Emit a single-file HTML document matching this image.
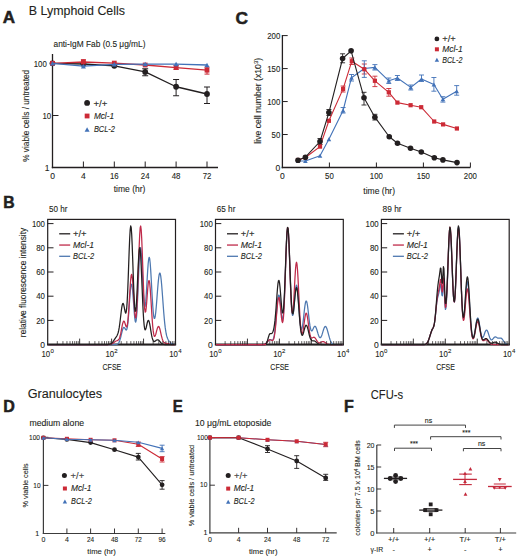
<!DOCTYPE html>
<html><head><meta charset="utf-8"><style>
html,body{margin:0;padding:0;background:#fff;}
svg{display:block;font-family:"Liberation Sans", sans-serif;}
</style></head><body>
<svg width="520" height="558" viewBox="0 0 520 558">
<rect width="520" height="558" fill="#fff"/>
<text x="2.7" y="22.9" font-size="16.6" fill="#231f20" font-weight="bold" textLength="12.3" lengthAdjust="spacingAndGlyphs" stroke="#231f20" stroke-width="0.5">A</text>
<text x="28.8" y="14.8" font-size="12" fill="#231f20" stroke="#231f20" stroke-width="0.1" textLength="96.2" lengthAdjust="spacingAndGlyphs" >B Lymphoid Cells</text>
<text x="3.3" y="208.1" font-size="16.2" fill="#231f20" font-weight="bold" textLength="11.4" lengthAdjust="spacingAndGlyphs" stroke="#231f20" stroke-width="0.5">B</text>
<text x="235.4" y="23.9" font-size="16.4" fill="#231f20" font-weight="bold" textLength="12.5" lengthAdjust="spacingAndGlyphs" stroke="#231f20" stroke-width="0.5">C</text>
<text x="3.3" y="411.9" font-size="16" fill="#231f20" font-weight="bold" textLength="11.6" lengthAdjust="spacingAndGlyphs" stroke="#231f20" stroke-width="0.5">D</text>
<text x="27.7" y="398.3" font-size="12.5" fill="#231f20" stroke="#231f20" stroke-width="0.1" textLength="74.4" lengthAdjust="spacingAndGlyphs" >Granulocytes</text>
<text x="172.7" y="412.2" font-size="16.5" fill="#231f20" font-weight="bold" textLength="10" lengthAdjust="spacingAndGlyphs" stroke="#231f20" stroke-width="0.5">E</text>
<text x="344" y="411.9" font-size="16" fill="#231f20" font-weight="bold" textLength="9.8" lengthAdjust="spacingAndGlyphs" stroke="#231f20" stroke-width="0.5">F</text>
<text x="370.8" y="398.6" font-size="12.5" fill="#231f20" stroke="#231f20" stroke-width="0.1" textLength="32.3" lengthAdjust="spacingAndGlyphs" >CFU-s</text>
<text x="53.5" y="46.8" font-size="9" fill="#231f20" stroke="#231f20" stroke-width="0.1" textLength="92" lengthAdjust="spacingAndGlyphs" >anti-IgM Fab (0.5 &#956;g/mL)</text>
<line x1="52.5" y1="54" x2="52.5" y2="168.2" stroke="#231f20" stroke-width="1.3"/>
<line x1="51.8" y1="167.5" x2="218" y2="167.5" stroke="#231f20" stroke-width="1.3"/>
<line x1="52.5" y1="115.5" x2="58.5" y2="115.5" stroke="#231f20" stroke-width="1"/>
<line x1="52.5" y1="63.5" x2="58.5" y2="63.5" stroke="#231f20" stroke-width="1"/>
<line x1="83.4" y1="167.5" x2="83.4" y2="161.5" stroke="#231f20" stroke-width="1"/>
<line x1="114.3" y1="167.5" x2="114.3" y2="161.5" stroke="#231f20" stroke-width="1"/>
<line x1="145.2" y1="167.5" x2="145.2" y2="161.5" stroke="#231f20" stroke-width="1"/>
<line x1="176.1" y1="167.5" x2="176.1" y2="161.5" stroke="#231f20" stroke-width="1"/>
<line x1="207" y1="167.5" x2="207" y2="161.5" stroke="#231f20" stroke-width="1"/>
<text x="46.8" y="66.6" font-size="8.5" fill="#231f20" stroke="#231f20" stroke-width="0.1" text-anchor="end" textLength="13.08" lengthAdjust="spacingAndGlyphs" >100</text>
<text x="51.2" y="118.6" font-size="8.5" fill="#231f20" stroke="#231f20" stroke-width="0.1" text-anchor="end" textLength="8.72" lengthAdjust="spacingAndGlyphs" >10</text>
<text x="49.4" y="170.7" font-size="8.5" fill="#231f20" stroke="#231f20" stroke-width="0.1" text-anchor="end" >1</text>
<text x="52.5" y="179.3" font-size="8.5" fill="#231f20" stroke="#231f20" stroke-width="0.1" text-anchor="middle" >0</text>
<text x="83.4" y="179.3" font-size="8.5" fill="#231f20" stroke="#231f20" stroke-width="0.1" text-anchor="middle" >4</text>
<text x="114.3" y="179.3" font-size="8.5" fill="#231f20" stroke="#231f20" stroke-width="0.1" text-anchor="middle" textLength="8.72" lengthAdjust="spacingAndGlyphs" >16</text>
<text x="145.2" y="179.3" font-size="8.5" fill="#231f20" stroke="#231f20" stroke-width="0.1" text-anchor="middle" textLength="8.72" lengthAdjust="spacingAndGlyphs" >24</text>
<text x="176.1" y="179.3" font-size="8.5" fill="#231f20" stroke="#231f20" stroke-width="0.1" text-anchor="middle" textLength="8.72" lengthAdjust="spacingAndGlyphs" >48</text>
<text x="207" y="179.3" font-size="8.5" fill="#231f20" stroke="#231f20" stroke-width="0.1" text-anchor="middle" textLength="8.72" lengthAdjust="spacingAndGlyphs" >72</text>
<text x="129.6" y="192.4" font-size="8.8" fill="#231f20" stroke="#231f20" stroke-width="0.1" text-anchor="middle" textLength="31.7" lengthAdjust="spacingAndGlyphs" >time (hr)</text>
<text transform="translate(29.3,115.8) rotate(-90)" font-size="9" fill="#231f20" stroke="#231f20" stroke-width="0.1" text-anchor="middle" textLength="92" lengthAdjust="spacingAndGlyphs" >% viable cells / untreated</text>
<line x1="145.2" y1="68.75" x2="145.2" y2="75.75" stroke="#231f20" stroke-width="1"/>
<line x1="142.2" y1="68.75" x2="148.2" y2="68.75" stroke="#231f20" stroke-width="1"/>
<line x1="142.2" y1="75.75" x2="148.2" y2="75.75" stroke="#231f20" stroke-width="1"/>
<line x1="176.1" y1="79.5" x2="176.1" y2="95.75" stroke="#231f20" stroke-width="1"/>
<line x1="173.1" y1="79.5" x2="179.1" y2="79.5" stroke="#231f20" stroke-width="1"/>
<line x1="173.1" y1="95.75" x2="179.1" y2="95.75" stroke="#231f20" stroke-width="1"/>
<line x1="207" y1="87" x2="207" y2="103.5" stroke="#231f20" stroke-width="1"/>
<line x1="204" y1="87" x2="210" y2="87" stroke="#231f20" stroke-width="1"/>
<line x1="204" y1="103.5" x2="210" y2="103.5" stroke="#231f20" stroke-width="1"/>
<line x1="207" y1="67.2" x2="207" y2="74.1" stroke="#cc2a36" stroke-width="1"/>
<line x1="204.5" y1="67.2" x2="209.5" y2="67.2" stroke="#cc2a36" stroke-width="1"/>
<line x1="204.5" y1="74.1" x2="209.5" y2="74.1" stroke="#cc2a36" stroke-width="1"/>
<line x1="83.4" y1="59.7" x2="83.4" y2="64" stroke="#cc2a36" stroke-width="1"/>
<line x1="80.9" y1="59.7" x2="85.9" y2="59.7" stroke="#cc2a36" stroke-width="1"/>
<line x1="80.9" y1="64" x2="85.9" y2="64" stroke="#cc2a36" stroke-width="1"/>
<line x1="176.1" y1="65.5" x2="176.1" y2="69.5" stroke="#cc2a36" stroke-width="1"/>
<line x1="173.6" y1="65.5" x2="178.6" y2="65.5" stroke="#cc2a36" stroke-width="1"/>
<line x1="173.6" y1="69.5" x2="178.6" y2="69.5" stroke="#cc2a36" stroke-width="1"/>
<polyline points="52.5,63.3 83.4,64 114.3,65.8 145.2,71.9 176.1,86.75 207,94" fill="none" stroke="#231f20" stroke-width="1.3" stroke-linejoin="round"/>
<circle cx="52.5" cy="63.3" r="2.9" fill="#231f20"/>
<circle cx="83.4" cy="64" r="2.9" fill="#231f20"/>
<circle cx="114.3" cy="65.8" r="2.9" fill="#231f20"/>
<circle cx="145.2" cy="71.9" r="2.9" fill="#231f20"/>
<circle cx="176.1" cy="86.75" r="2.9" fill="#231f20"/>
<circle cx="207" cy="94" r="2.9" fill="#231f20"/>
<polyline points="52.5,63.3 83.4,62 114.3,63.1 145.2,65 176.1,67.6 207,70.2" fill="none" stroke="#cc2a36" stroke-width="1.3" stroke-linejoin="round"/>
<rect x="50.1" y="60.9" width="4.8" height="4.8" fill="#cc2a36"/>
<rect x="81" y="59.6" width="4.8" height="4.8" fill="#cc2a36"/>
<rect x="111.9" y="60.7" width="4.8" height="4.8" fill="#cc2a36"/>
<rect x="142.8" y="62.6" width="4.8" height="4.8" fill="#cc2a36"/>
<rect x="173.7" y="65.2" width="4.8" height="4.8" fill="#cc2a36"/>
<rect x="204.6" y="67.8" width="4.8" height="4.8" fill="#cc2a36"/>
<polyline points="52.5,63.3 83.4,66.2 114.3,64.3 145.2,64.1 176.1,64.1 207,65" fill="none" stroke="#4272b8" stroke-width="1.3" stroke-linejoin="round"/>
<polygon points="50,65.55 55,65.55 52.5,61.05" fill="#4272b8"/>
<polygon points="80.9,68.45 85.9,68.45 83.4,63.95" fill="#4272b8"/>
<polygon points="111.8,66.55 116.8,66.55 114.3,62.05" fill="#4272b8"/>
<polygon points="142.7,66.35 147.7,66.35 145.2,61.85" fill="#4272b8"/>
<polygon points="173.6,66.35 178.6,66.35 176.1,61.85" fill="#4272b8"/>
<polygon points="204.5,67.25 209.5,67.25 207,62.75" fill="#4272b8"/>
<circle cx="87.1" cy="102.9" r="2.9" fill="#231f20"/>
<text x="93.4" y="106.6" font-size="9.5" fill="#231f20" stroke="#231f20" stroke-width="0.1" textLength="13.9" lengthAdjust="spacingAndGlyphs" >+/+</text>
<rect x="84.7" y="113.6" width="4.8" height="4.8" fill="#cc2a36"/>
<text x="93.9" y="118.6" font-size="9" fill="#231f20" stroke="#231f20" stroke-width="0.1" font-style="italic" textLength="20.1" lengthAdjust="spacingAndGlyphs" >Mcl-1</text>
<polygon points="84.6,131.85 89.6,131.85 87.1,127.35" fill="#4272b8"/>
<text x="93.9" y="132.3" font-size="9" fill="#231f20" stroke="#231f20" stroke-width="0.1" font-style="italic" textLength="21.1" lengthAdjust="spacingAndGlyphs" >BCL-2</text>
<line x1="282.4" y1="35" x2="282.4" y2="168.2" stroke="#231f20" stroke-width="1.3"/>
<line x1="281.7" y1="167.5" x2="470.4" y2="167.5" stroke="#231f20" stroke-width="1.3"/>
<line x1="282.4" y1="134.53" x2="287.7" y2="134.53" stroke="#231f20" stroke-width="1"/>
<line x1="282.4" y1="101.55" x2="287.7" y2="101.55" stroke="#231f20" stroke-width="1"/>
<line x1="282.4" y1="68.58" x2="287.7" y2="68.58" stroke="#231f20" stroke-width="1"/>
<line x1="282.4" y1="35.6" x2="287.7" y2="35.6" stroke="#231f20" stroke-width="1"/>
<line x1="329.4" y1="167.5" x2="329.4" y2="162.5" stroke="#231f20" stroke-width="1"/>
<line x1="376.4" y1="167.5" x2="376.4" y2="162.5" stroke="#231f20" stroke-width="1"/>
<line x1="423.4" y1="167.5" x2="423.4" y2="162.5" stroke="#231f20" stroke-width="1"/>
<line x1="470.4" y1="167.5" x2="470.4" y2="162.5" stroke="#231f20" stroke-width="1"/>
<text x="280.3" y="170.5" font-size="8.5" fill="#231f20" stroke="#231f20" stroke-width="0.1" text-anchor="end" >0</text>
<text x="280.3" y="137.53" font-size="8.5" fill="#231f20" stroke="#231f20" stroke-width="0.1" text-anchor="end" textLength="8.72" lengthAdjust="spacingAndGlyphs" >50</text>
<text x="280.3" y="104.55" font-size="8.5" fill="#231f20" stroke="#231f20" stroke-width="0.1" text-anchor="end" textLength="13.08" lengthAdjust="spacingAndGlyphs" >100</text>
<text x="280.3" y="71.58" font-size="8.5" fill="#231f20" stroke="#231f20" stroke-width="0.1" text-anchor="end" textLength="13.08" lengthAdjust="spacingAndGlyphs" >150</text>
<text x="280.3" y="38.6" font-size="8.5" fill="#231f20" stroke="#231f20" stroke-width="0.1" text-anchor="end" textLength="13.08" lengthAdjust="spacingAndGlyphs" >200</text>
<text x="282.4" y="178.5" font-size="8.5" fill="#231f20" stroke="#231f20" stroke-width="0.1" text-anchor="middle" >0</text>
<text x="329.4" y="178.5" font-size="8.5" fill="#231f20" stroke="#231f20" stroke-width="0.1" text-anchor="middle" textLength="8.72" lengthAdjust="spacingAndGlyphs" >50</text>
<text x="376.4" y="178.5" font-size="8.5" fill="#231f20" stroke="#231f20" stroke-width="0.1" text-anchor="middle" textLength="13.08" lengthAdjust="spacingAndGlyphs" >100</text>
<text x="423.4" y="178.5" font-size="8.5" fill="#231f20" stroke="#231f20" stroke-width="0.1" text-anchor="middle" textLength="13.08" lengthAdjust="spacingAndGlyphs" >150</text>
<text x="470.4" y="178.5" font-size="8.5" fill="#231f20" stroke="#231f20" stroke-width="0.1" text-anchor="middle" textLength="13.08" lengthAdjust="spacingAndGlyphs" >200</text>
<text x="379.2" y="193.6" font-size="8.8" fill="#231f20" stroke="#231f20" stroke-width="0.1" text-anchor="middle" textLength="31.7" lengthAdjust="spacingAndGlyphs" >time (hr)</text>
<text transform="translate(260.8,100.8) rotate(-90)" font-size="8.7" fill="#231f20" stroke="#231f20" stroke-width="0.1" text-anchor="middle" >live cell number (x10<tspan dy="-3" font-size="6">3</tspan><tspan dy="3">)</tspan></text>
<line x1="342.6" y1="53.8" x2="342.6" y2="62.8" stroke="#231f20" stroke-width="0.9"/>
<line x1="340.1" y1="53.8" x2="345.1" y2="53.8" stroke="#231f20" stroke-width="0.9"/>
<line x1="340.1" y1="62.8" x2="345.1" y2="62.8" stroke="#231f20" stroke-width="0.9"/>
<line x1="364" y1="92.3" x2="364" y2="105" stroke="#231f20" stroke-width="0.9"/>
<line x1="361.5" y1="92.3" x2="366.5" y2="92.3" stroke="#231f20" stroke-width="0.9"/>
<line x1="361.5" y1="105" x2="366.5" y2="105" stroke="#231f20" stroke-width="0.9"/>
<line x1="374.9" y1="114.3" x2="374.9" y2="120" stroke="#231f20" stroke-width="0.9"/>
<line x1="372.4" y1="114.3" x2="377.4" y2="114.3" stroke="#231f20" stroke-width="0.9"/>
<line x1="372.4" y1="120" x2="377.4" y2="120" stroke="#231f20" stroke-width="0.9"/>
<line x1="328.9" y1="109.5" x2="328.9" y2="115.5" stroke="#231f20" stroke-width="0.9"/>
<line x1="326.4" y1="109.5" x2="331.4" y2="109.5" stroke="#231f20" stroke-width="0.9"/>
<line x1="326.4" y1="115.5" x2="331.4" y2="115.5" stroke="#231f20" stroke-width="0.9"/>
<line x1="320" y1="138.5" x2="320" y2="144.5" stroke="#231f20" stroke-width="0.9"/>
<line x1="317.5" y1="138.5" x2="322.5" y2="138.5" stroke="#231f20" stroke-width="0.9"/>
<line x1="317.5" y1="144.5" x2="322.5" y2="144.5" stroke="#231f20" stroke-width="0.9"/>
<line x1="374.9" y1="76.2" x2="374.9" y2="86.6" stroke="#cc2a36" stroke-width="0.9"/>
<line x1="372.4" y1="76.2" x2="377.4" y2="76.2" stroke="#cc2a36" stroke-width="0.9"/>
<line x1="372.4" y1="86.6" x2="377.4" y2="86.6" stroke="#cc2a36" stroke-width="0.9"/>
<line x1="388.8" y1="88.5" x2="388.8" y2="96.2" stroke="#cc2a36" stroke-width="0.9"/>
<line x1="386.3" y1="88.5" x2="391.3" y2="88.5" stroke="#cc2a36" stroke-width="0.9"/>
<line x1="386.3" y1="96.2" x2="391.3" y2="96.2" stroke="#cc2a36" stroke-width="0.9"/>
<line x1="364.3" y1="64" x2="364.3" y2="74" stroke="#cc2a36" stroke-width="0.9"/>
<line x1="361.8" y1="64" x2="366.8" y2="64" stroke="#cc2a36" stroke-width="0.9"/>
<line x1="361.8" y1="74" x2="366.8" y2="74" stroke="#cc2a36" stroke-width="0.9"/>
<line x1="351.8" y1="58" x2="351.8" y2="64.5" stroke="#cc2a36" stroke-width="0.9"/>
<line x1="349.3" y1="58" x2="354.3" y2="58" stroke="#cc2a36" stroke-width="0.9"/>
<line x1="349.3" y1="64.5" x2="354.3" y2="64.5" stroke="#cc2a36" stroke-width="0.9"/>
<line x1="343.1" y1="86" x2="343.1" y2="92" stroke="#cc2a36" stroke-width="0.9"/>
<line x1="340.6" y1="86" x2="345.6" y2="86" stroke="#cc2a36" stroke-width="0.9"/>
<line x1="340.6" y1="92" x2="345.6" y2="92" stroke="#cc2a36" stroke-width="0.9"/>
<line x1="364.3" y1="60.8" x2="364.3" y2="77.4" stroke="#4272b8" stroke-width="0.9"/>
<line x1="361.8" y1="60.8" x2="366.8" y2="60.8" stroke="#4272b8" stroke-width="0.9"/>
<line x1="361.8" y1="77.4" x2="366.8" y2="77.4" stroke="#4272b8" stroke-width="0.9"/>
<line x1="374.9" y1="64.6" x2="374.9" y2="70" stroke="#4272b8" stroke-width="0.9"/>
<line x1="372.4" y1="64.6" x2="377.4" y2="64.6" stroke="#4272b8" stroke-width="0.9"/>
<line x1="372.4" y1="70" x2="377.4" y2="70" stroke="#4272b8" stroke-width="0.9"/>
<line x1="421.5" y1="75" x2="421.5" y2="81.5" stroke="#4272b8" stroke-width="0.9"/>
<line x1="419" y1="75" x2="424" y2="75" stroke="#4272b8" stroke-width="0.9"/>
<line x1="419" y1="81.5" x2="424" y2="81.5" stroke="#4272b8" stroke-width="0.9"/>
<line x1="433.9" y1="77.5" x2="433.9" y2="91.2" stroke="#4272b8" stroke-width="0.9"/>
<line x1="431.4" y1="77.5" x2="436.4" y2="77.5" stroke="#4272b8" stroke-width="0.9"/>
<line x1="431.4" y1="91.2" x2="436.4" y2="91.2" stroke="#4272b8" stroke-width="0.9"/>
<line x1="442.9" y1="96.7" x2="442.9" y2="102.1" stroke="#4272b8" stroke-width="0.9"/>
<line x1="440.4" y1="96.7" x2="445.4" y2="96.7" stroke="#4272b8" stroke-width="0.9"/>
<line x1="440.4" y1="102.1" x2="445.4" y2="102.1" stroke="#4272b8" stroke-width="0.9"/>
<line x1="456.7" y1="85.6" x2="456.7" y2="95.2" stroke="#4272b8" stroke-width="0.9"/>
<line x1="454.2" y1="85.6" x2="459.2" y2="85.6" stroke="#4272b8" stroke-width="0.9"/>
<line x1="454.2" y1="95.2" x2="459.2" y2="95.2" stroke="#4272b8" stroke-width="0.9"/>
<line x1="351.5" y1="74.5" x2="351.5" y2="81" stroke="#4272b8" stroke-width="0.9"/>
<line x1="349" y1="74.5" x2="354" y2="74.5" stroke="#4272b8" stroke-width="0.9"/>
<line x1="349" y1="81" x2="354" y2="81" stroke="#4272b8" stroke-width="0.9"/>
<line x1="397.4" y1="75.5" x2="397.4" y2="80.5" stroke="#4272b8" stroke-width="0.9"/>
<line x1="394.9" y1="75.5" x2="399.9" y2="75.5" stroke="#4272b8" stroke-width="0.9"/>
<line x1="394.9" y1="80.5" x2="399.9" y2="80.5" stroke="#4272b8" stroke-width="0.9"/>
<line x1="388.8" y1="78" x2="388.8" y2="83.5" stroke="#4272b8" stroke-width="0.9"/>
<line x1="386.3" y1="78" x2="391.3" y2="78" stroke="#4272b8" stroke-width="0.9"/>
<line x1="386.3" y1="83.5" x2="391.3" y2="83.5" stroke="#4272b8" stroke-width="0.9"/>
<line x1="410.8" y1="85" x2="410.8" y2="90" stroke="#4272b8" stroke-width="0.9"/>
<line x1="408.3" y1="85" x2="413.3" y2="85" stroke="#4272b8" stroke-width="0.9"/>
<line x1="408.3" y1="90" x2="413.3" y2="90" stroke="#4272b8" stroke-width="0.9"/>
<line x1="343.1" y1="107.5" x2="343.1" y2="113" stroke="#4272b8" stroke-width="0.9"/>
<line x1="340.6" y1="107.5" x2="345.6" y2="107.5" stroke="#4272b8" stroke-width="0.9"/>
<line x1="340.6" y1="113" x2="345.6" y2="113" stroke="#4272b8" stroke-width="0.9"/>
<polyline points="298,161 305.4,161 320,155.8 328.9,139.2 343.1,110.5 351.5,77.7 364.3,68.5 374.9,67.4 388.8,80.8 397.4,78 410.8,87.4 421.5,79 433.9,84.5 442.9,99.2 456.7,91.2" fill="none" stroke="#4272b8" stroke-width="1.1" stroke-linejoin="round"/>
<polygon points="295.7,163.07 300.3,163.07 298,158.93" fill="#4272b8"/>
<polygon points="303.1,163.07 307.7,163.07 305.4,158.93" fill="#4272b8"/>
<polygon points="317.7,157.87 322.3,157.87 320,153.73" fill="#4272b8"/>
<polygon points="326.6,141.27 331.2,141.27 328.9,137.13" fill="#4272b8"/>
<polygon points="340.8,112.57 345.4,112.57 343.1,108.43" fill="#4272b8"/>
<polygon points="349.2,79.77 353.8,79.77 351.5,75.63" fill="#4272b8"/>
<polygon points="362,70.57 366.6,70.57 364.3,66.43" fill="#4272b8"/>
<polygon points="372.6,69.47 377.2,69.47 374.9,65.33" fill="#4272b8"/>
<polygon points="386.5,82.87 391.1,82.87 388.8,78.73" fill="#4272b8"/>
<polygon points="395.1,80.07 399.7,80.07 397.4,75.93" fill="#4272b8"/>
<polygon points="408.5,89.47 413.1,89.47 410.8,85.33" fill="#4272b8"/>
<polygon points="419.2,81.07 423.8,81.07 421.5,76.93" fill="#4272b8"/>
<polygon points="431.6,86.57 436.2,86.57 433.9,82.43" fill="#4272b8"/>
<polygon points="440.6,101.27 445.2,101.27 442.9,97.13" fill="#4272b8"/>
<polygon points="454.4,93.27 459,93.27 456.7,89.13" fill="#4272b8"/>
<polyline points="298,160 305.4,157.5 320,146.6 328.9,120.8 343.1,88.9 351.8,61.2 364.3,69.2 374.9,80.8 388.8,92.3 397.4,102.6 410.6,105.2 421.2,107.2 434.2,121.5 443.1,124.4 456.9,128.5" fill="none" stroke="#cc2a36" stroke-width="1.1" stroke-linejoin="round"/>
<rect x="295.9" y="157.9" width="4.2" height="4.2" fill="#cc2a36"/>
<rect x="303.3" y="155.4" width="4.2" height="4.2" fill="#cc2a36"/>
<rect x="317.9" y="144.5" width="4.2" height="4.2" fill="#cc2a36"/>
<rect x="326.8" y="118.7" width="4.2" height="4.2" fill="#cc2a36"/>
<rect x="341" y="86.8" width="4.2" height="4.2" fill="#cc2a36"/>
<rect x="349.7" y="59.1" width="4.2" height="4.2" fill="#cc2a36"/>
<rect x="362.2" y="67.1" width="4.2" height="4.2" fill="#cc2a36"/>
<rect x="372.8" y="78.7" width="4.2" height="4.2" fill="#cc2a36"/>
<rect x="386.7" y="90.2" width="4.2" height="4.2" fill="#cc2a36"/>
<rect x="395.3" y="100.5" width="4.2" height="4.2" fill="#cc2a36"/>
<rect x="408.5" y="103.1" width="4.2" height="4.2" fill="#cc2a36"/>
<rect x="419.1" y="105.1" width="4.2" height="4.2" fill="#cc2a36"/>
<rect x="432.1" y="119.4" width="4.2" height="4.2" fill="#cc2a36"/>
<rect x="441" y="122.3" width="4.2" height="4.2" fill="#cc2a36"/>
<rect x="454.8" y="126.4" width="4.2" height="4.2" fill="#cc2a36"/>
<polyline points="298,160.3 305.4,157.2 320,141.5 328.9,112.6 342.6,58.5 351.1,50.8 364,97.7 374.9,117.2 389.25,136.75 397.5,143.25 410.5,148.25 421.3,152 434.3,157.7 442.9,159.9 457,162.6" fill="none" stroke="#231f20" stroke-width="1.1" stroke-linejoin="round"/>
<circle cx="298" cy="160.3" r="2.8" fill="#231f20"/>
<circle cx="305.4" cy="157.2" r="2.8" fill="#231f20"/>
<circle cx="320" cy="141.5" r="2.8" fill="#231f20"/>
<circle cx="328.9" cy="112.6" r="2.8" fill="#231f20"/>
<circle cx="342.6" cy="58.5" r="2.8" fill="#231f20"/>
<circle cx="351.1" cy="50.8" r="2.8" fill="#231f20"/>
<circle cx="364" cy="97.7" r="2.8" fill="#231f20"/>
<circle cx="374.9" cy="117.2" r="2.8" fill="#231f20"/>
<circle cx="389.25" cy="136.75" r="2.8" fill="#231f20"/>
<circle cx="397.5" cy="143.25" r="2.8" fill="#231f20"/>
<circle cx="410.5" cy="148.25" r="2.8" fill="#231f20"/>
<circle cx="421.3" cy="152" r="2.8" fill="#231f20"/>
<circle cx="434.3" cy="157.7" r="2.8" fill="#231f20"/>
<circle cx="442.9" cy="159.9" r="2.8" fill="#231f20"/>
<circle cx="457" cy="162.6" r="2.8" fill="#231f20"/>
<circle cx="436.9" cy="38.9" r="2.4" fill="#231f20"/>
<text x="442.2" y="42" font-size="9" fill="#231f20" stroke="#231f20" stroke-width="0.1" textLength="13.5" lengthAdjust="spacingAndGlyphs" >+/+</text>
<rect x="434.9" y="47.3" width="4" height="4" fill="#cc2a36"/>
<text x="442.2" y="52.4" font-size="8.5" fill="#231f20" stroke="#231f20" stroke-width="0.1" font-style="italic" textLength="20.6" lengthAdjust="spacingAndGlyphs" >Mcl-1</text>
<polygon points="434.7,61.68 439.1,61.68 436.9,57.72" fill="#4272b8"/>
<text x="442.2" y="62.8" font-size="8.5" fill="#231f20" stroke="#231f20" stroke-width="0.1" font-style="italic" textLength="20.2" lengthAdjust="spacingAndGlyphs" >BCL-2</text>
<text x="48.9" y="212" font-size="9" fill="#231f20" stroke="#231f20" stroke-width="0.1" textLength="18.5" lengthAdjust="spacingAndGlyphs" >50 hr</text>
<rect x="47.7" y="219.4" width="127.8" height="125.2" fill="none" stroke="#231f20" stroke-width="1.2"/>
<line x1="47.1" y1="344.6" x2="176.1" y2="344.6" stroke="#231f20" stroke-width="2"/>
<path d="M48.2,344.60 L48.7,344.60 L49.2,344.60 L49.7,344.60 L50.2,344.60 L50.7,344.60 L51.2,344.60 L51.7,344.60 L52.2,344.60 L52.7,344.60 L53.2,344.60 L53.7,344.60 L54.2,344.60 L54.7,344.60 L55.2,344.60 L55.7,344.60 L56.2,344.60 L56.7,344.60 L57.2,344.60 L57.7,344.60 L58.2,344.60 L58.7,344.60 L59.2,344.60 L59.7,344.60 L60.2,344.60 L60.7,344.60 L61.2,344.60 L61.7,344.60 L62.2,344.60 L62.7,344.60 L63.2,344.60 L63.7,344.60 L64.2,344.60 L64.7,344.60 L65.2,344.60 L65.7,344.60 L66.2,344.60 L66.7,344.60 L67.2,344.60 L67.7,344.60 L68.2,344.60 L68.7,344.60 L69.2,344.60 L69.7,344.60 L70.2,344.60 L70.7,344.60 L71.2,344.60 L71.7,344.60 L72.2,344.60 L72.7,344.60 L73.2,344.60 L73.7,344.60 L74.2,344.60 L74.7,344.60 L75.2,344.60 L75.7,344.60 L76.2,344.60 L76.7,344.60 L77.2,344.60 L77.7,344.60 L78.2,344.60 L78.7,344.60 L79.2,344.60 L79.7,344.60 L80.2,344.60 L80.7,344.60 L81.2,344.60 L81.7,344.60 L82.2,344.60 L82.7,344.60 L83.2,344.60 L83.7,344.60 L84.2,344.60 L84.7,344.60 L85.2,344.60 L85.7,344.60 L86.2,344.60 L86.7,344.60 L87.2,344.60 L87.7,344.60 L88.2,344.60 L88.7,344.60 L89.2,344.60 L89.7,344.60 L90.2,344.60 L90.7,344.60 L91.2,344.60 L91.7,344.60 L92.2,344.60 L92.7,344.60 L93.2,344.60 L93.7,344.60 L94.2,344.60 L94.7,344.60 L95.2,344.60 L95.7,344.60 L96.2,344.60 L96.7,344.60 L97.2,344.60 L97.7,344.60 L98.2,344.60 L98.7,344.60 L99.2,344.60 L99.7,344.60 L100.2,344.60 L100.7,344.60 L101.2,344.60 L101.7,344.60 L102.2,344.60 L102.7,344.60 L103.2,344.60 L103.7,344.60 L104.2,344.60 L104.7,344.60 L105.2,344.60 L105.7,344.60 L106.2,344.60 L106.7,344.60 L107.2,344.60 L107.7,344.60 L108.2,344.60 L108.7,344.60 L109.2,344.60 L109.7,344.60 L110.2,344.60 L110.7,344.60 L111.2,344.60 L111.7,344.60 L112.2,344.60 L112.7,344.60 L113.2,344.60 L113.7,344.60 L114.2,344.59 L114.7,344.59 L115.2,344.57 L115.7,344.54 L116.2,344.49 L116.7,344.39 L117.2,344.21 L117.7,343.93 L118.2,343.49 L118.7,342.83 L119.2,341.90 L119.7,340.66 L120.2,339.10 L120.7,337.24 L121.2,335.18 L121.7,333.04 L122.2,331.02 L122.7,329.31 L123.2,328.09 L123.7,327.48 L124.2,327.50 L124.7,328.05 L125.2,328.89 L125.7,329.70 L126.2,330.07 L126.7,329.58 L127.2,327.85 L127.7,324.62 L128.2,319.83 L128.7,313.66 L129.2,306.56 L129.7,299.23 L130.2,292.54 L130.7,287.37 L131.2,284.44 L131.7,284.19 L132.2,286.66 L132.7,291.47 L133.2,297.92 L133.7,305.08 L134.2,311.95 L134.7,317.59 L135.2,321.21 L135.7,322.21 L136.2,320.24 L136.7,315.18 L137.2,307.21 L137.7,296.86 L138.2,285.01 L138.7,272.86 L139.2,261.81 L139.7,253.27 L140.2,248.35 L140.7,247.73 L141.2,251.41 L141.7,258.76 L142.2,268.61 L142.7,279.51 L143.2,289.92 L143.7,298.53 L144.2,304.35 L144.7,306.85 L145.2,305.92 L145.7,301.88 L146.2,295.33 L146.7,287.16 L147.2,278.39 L147.7,270.09 L148.2,263.29 L148.7,258.83 L149.2,257.27 L149.7,258.80 L150.2,263.25 L150.7,270.11 L151.2,278.62 L151.7,287.86 L152.2,296.94 L152.7,305.05 L153.2,311.57 L153.7,316.08 L154.2,318.39 L154.7,318.47 L155.2,316.49 L155.7,312.71 L156.2,307.52 L156.7,301.37 L157.2,294.78 L157.7,288.28 L158.2,282.41 L158.7,277.66 L159.2,274.45 L159.7,273.04 L160.2,273.55 L160.7,275.95 L161.2,280.01 L161.7,285.42 L162.2,291.75 L162.7,298.56 L163.2,305.41 L163.7,311.95 L164.2,317.90 L164.7,323.09 L165.2,327.44 L165.7,330.97 L166.2,333.76 L166.7,335.92 L167.2,337.57 L167.7,338.84 L168.2,339.83 L168.7,340.63 L169.2,341.30 L169.7,341.87 L170.2,342.37 L170.7,342.81 L171.2,343.19 L171.7,343.51 L172.2,343.78 L172.7,344.00 L173.2,344.17 L173.7,344.30 L174.2,344.40 L174.7,344.46" fill="none" stroke="#4d78b0" stroke-width="1.25" stroke-linejoin="round"/>
<path d="M48.2,344.60 L48.7,344.60 L49.2,344.60 L49.7,344.60 L50.2,344.60 L50.7,344.60 L51.2,344.60 L51.7,344.60 L52.2,344.60 L52.7,344.60 L53.2,344.60 L53.7,344.60 L54.2,344.60 L54.7,344.60 L55.2,344.60 L55.7,344.60 L56.2,344.60 L56.7,344.60 L57.2,344.60 L57.7,344.60 L58.2,344.60 L58.7,344.60 L59.2,344.60 L59.7,344.60 L60.2,344.60 L60.7,344.60 L61.2,344.60 L61.7,344.60 L62.2,344.60 L62.7,344.60 L63.2,344.60 L63.7,344.60 L64.2,344.60 L64.7,344.60 L65.2,344.60 L65.7,344.60 L66.2,344.60 L66.7,344.60 L67.2,344.60 L67.7,344.60 L68.2,344.60 L68.7,344.60 L69.2,344.60 L69.7,344.60 L70.2,344.60 L70.7,344.60 L71.2,344.60 L71.7,344.60 L72.2,344.60 L72.7,344.60 L73.2,344.60 L73.7,344.60 L74.2,344.60 L74.7,344.60 L75.2,344.60 L75.7,344.60 L76.2,344.60 L76.7,344.60 L77.2,344.60 L77.7,344.60 L78.2,344.60 L78.7,344.60 L79.2,344.60 L79.7,344.60 L80.2,344.60 L80.7,344.60 L81.2,344.60 L81.7,344.60 L82.2,344.60 L82.7,344.60 L83.2,344.60 L83.7,344.60 L84.2,344.60 L84.7,344.60 L85.2,344.60 L85.7,344.60 L86.2,344.60 L86.7,344.60 L87.2,344.60 L87.7,344.60 L88.2,344.60 L88.7,344.60 L89.2,344.60 L89.7,344.60 L90.2,344.60 L90.7,344.60 L91.2,344.60 L91.7,344.60 L92.2,344.60 L92.7,344.60 L93.2,344.60 L93.7,344.60 L94.2,344.60 L94.7,344.60 L95.2,344.60 L95.7,344.60 L96.2,344.60 L96.7,344.60 L97.2,344.60 L97.7,344.60 L98.2,344.60 L98.7,344.60 L99.2,344.60 L99.7,344.60 L100.2,344.60 L100.7,344.60 L101.2,344.60 L101.7,344.60 L102.2,344.60 L102.7,344.60 L103.2,344.60 L103.7,344.60 L104.2,344.60 L104.7,344.60 L105.2,344.60 L105.7,344.60 L106.2,344.59 L106.7,344.59 L107.2,344.58 L107.7,344.57 L108.2,344.55 L108.7,344.52 L109.2,344.48 L109.7,344.41 L110.2,344.32 L110.7,344.20 L111.2,344.04 L111.7,343.84 L112.2,343.59 L112.7,343.30 L113.2,342.97 L113.7,342.62 L114.2,342.25 L114.7,341.89 L115.2,341.55 L115.7,341.25 L116.2,341.00 L116.7,340.79 L117.2,340.60 L117.7,340.38 L118.2,340.06 L118.7,339.54 L119.2,338.71 L119.7,337.49 L120.2,335.79 L120.7,333.63 L121.2,331.10 L121.7,328.38 L122.2,325.73 L122.7,323.46 L123.2,321.86 L123.7,321.14 L124.2,321.35 L124.7,322.39 L125.2,323.95 L125.7,325.59 L126.2,326.77 L126.7,326.94 L127.2,325.62 L127.7,322.47 L128.2,317.37 L128.7,310.53 L129.2,302.42 L129.7,293.85 L130.2,285.80 L130.7,279.33 L131.2,275.32 L131.7,274.36 L132.2,276.59 L132.7,281.67 L133.2,288.83 L133.7,297.02 L134.2,305.08 L134.7,311.89 L135.2,316.45 L135.7,318.01 L136.2,316.08 L136.7,310.43 L137.2,301.21 L137.7,288.96 L138.2,274.66 L138.7,259.70 L139.2,245.77 L139.7,234.60 L140.2,227.69 L140.7,226.01 L141.2,229.77 L141.7,238.41 L142.2,250.69 L142.7,264.93 L143.2,279.34 L143.7,292.28 L144.2,302.50 L144.7,309.22 L145.2,312.17 L145.7,311.54 L146.2,307.91 L146.7,302.18 L147.2,295.45 L147.7,288.93 L148.2,283.73 L148.7,280.77 L149.2,280.59 L149.7,283.30 L150.2,288.57 L150.7,295.70 L151.2,303.83 L151.7,312.07 L152.2,319.66 L152.7,326.04 L153.2,330.91 L153.7,334.19 L154.2,335.98 L154.7,336.44 L155.2,335.85 L155.7,334.49 L156.2,332.65 L156.7,330.66 L157.2,328.81 L157.7,327.38 L158.2,326.56 L158.7,326.49 L159.2,327.17 L159.7,328.53 L160.2,330.39 L160.7,332.55 L161.2,334.77 L161.7,336.86 L162.2,338.69 L162.7,340.17 L163.2,341.29 L163.7,342.07 L164.2,342.58 L164.7,342.90 L165.2,343.08 L165.7,343.20 L166.2,343.29 L166.7,343.38 L167.2,343.50 L167.7,343.63 L168.2,343.77 L168.7,343.92 L169.2,344.07 L169.7,344.19 L170.2,344.30 L170.7,344.39 L171.2,344.46 L171.7,344.51 L172.2,344.54 L172.7,344.57 L173.2,344.58 L173.7,344.59 L174.2,344.59 L174.7,344.60" fill="none" stroke="#bf2a4a" stroke-width="1.25" stroke-linejoin="round"/>
<path d="M48.2,344.60 L48.7,344.60 L49.2,344.60 L49.7,344.60 L50.2,344.60 L50.7,344.60 L51.2,344.60 L51.7,344.60 L52.2,344.60 L52.7,344.60 L53.2,344.60 L53.7,344.60 L54.2,344.60 L54.7,344.60 L55.2,344.60 L55.7,344.60 L56.2,344.60 L56.7,344.60 L57.2,344.60 L57.7,344.60 L58.2,344.60 L58.7,344.60 L59.2,344.60 L59.7,344.60 L60.2,344.60 L60.7,344.60 L61.2,344.60 L61.7,344.60 L62.2,344.60 L62.7,344.60 L63.2,344.60 L63.7,344.60 L64.2,344.60 L64.7,344.60 L65.2,344.60 L65.7,344.60 L66.2,344.60 L66.7,344.60 L67.2,344.60 L67.7,344.60 L68.2,344.60 L68.7,344.60 L69.2,344.60 L69.7,344.60 L70.2,344.60 L70.7,344.60 L71.2,344.60 L71.7,344.60 L72.2,344.60 L72.7,344.60 L73.2,344.60 L73.7,344.60 L74.2,344.60 L74.7,344.60 L75.2,344.60 L75.7,344.60 L76.2,344.60 L76.7,344.60 L77.2,344.60 L77.7,344.60 L78.2,344.60 L78.7,344.60 L79.2,344.60 L79.7,344.60 L80.2,344.60 L80.7,344.60 L81.2,344.60 L81.7,344.60 L82.2,344.60 L82.7,344.60 L83.2,344.60 L83.7,344.60 L84.2,344.60 L84.7,344.60 L85.2,344.60 L85.7,344.60 L86.2,344.60 L86.7,344.60 L87.2,344.60 L87.7,344.60 L88.2,344.60 L88.7,344.60 L89.2,344.60 L89.7,344.60 L90.2,344.60 L90.7,344.60 L91.2,344.60 L91.7,344.60 L92.2,344.60 L92.7,344.60 L93.2,344.60 L93.7,344.60 L94.2,344.60 L94.7,344.60 L95.2,344.60 L95.7,344.60 L96.2,344.60 L96.7,344.60 L97.2,344.60 L97.7,344.60 L98.2,344.60 L98.7,344.60 L99.2,344.60 L99.7,344.60 L100.2,344.60 L100.7,344.60 L101.2,344.60 L101.7,344.60 L102.2,344.60 L102.7,344.60 L103.2,344.60 L103.7,344.60 L104.2,344.60 L104.7,344.60 L105.2,344.60 L105.7,344.59 L106.2,344.59 L106.7,344.58 L107.2,344.57 L107.7,344.54 L108.2,344.50 L108.7,344.44 L109.2,344.35 L109.7,344.22 L110.2,344.04 L110.7,343.80 L111.2,343.48 L111.7,343.07 L112.2,342.58 L112.7,342.00 L113.2,341.34 L113.7,340.61 L114.2,339.86 L114.7,339.09 L115.2,338.33 L115.7,337.60 L116.2,336.87 L116.7,336.10 L117.2,335.20 L117.7,334.05 L118.2,332.49 L118.7,330.40 L119.2,327.65 L119.7,324.24 L120.2,320.27 L120.7,315.97 L121.2,311.71 L121.7,307.94 L122.2,305.10 L122.7,303.55 L123.2,303.45 L123.7,304.72 L124.2,307.02 L124.7,309.74 L125.2,312.07 L125.7,313.14 L126.2,312.07 L126.7,308.18 L127.2,301.11 L127.7,290.91 L128.2,278.18 L128.7,264.06 L129.2,250.08 L129.7,238.02 L130.2,229.52 L130.7,225.85 L131.2,227.58 L131.7,234.48 L132.2,245.57 L132.7,259.35 L133.2,274.01 L133.7,287.82 L134.2,299.29 L134.7,307.32 L135.2,311.30 L135.7,311.01 L136.2,306.65 L136.7,298.84 L137.2,288.51 L137.7,276.96 L138.2,265.67 L138.7,256.20 L139.2,249.90 L139.7,247.71 L140.2,249.99 L140.7,256.43 L141.2,266.16 L141.7,277.93 L142.2,290.34 L142.7,302.13 L143.2,312.31 L143.7,320.27 L144.2,325.75 L144.7,328.85 L145.2,329.86 L145.7,329.23 L146.2,327.50 L146.7,325.24 L147.2,323.00 L147.7,321.26 L148.2,320.38 L148.7,320.55 L149.2,321.78 L149.7,323.93 L150.2,326.71 L150.7,329.80 L151.2,332.86 L151.7,335.63 L152.2,337.91 L152.7,339.62 L153.2,340.76 L153.7,341.37 L154.2,341.57 L154.7,341.45 L155.2,341.12 L155.7,340.71 L156.2,340.30 L156.7,339.97 L157.2,339.78 L157.7,339.77 L158.2,339.94 L158.7,340.29 L159.2,340.76 L159.7,341.31 L160.2,341.90 L160.7,342.47 L161.2,342.98 L161.7,343.42 L162.2,343.77 L162.7,344.04 L163.2,344.24 L163.7,344.38 L164.2,344.47 L164.7,344.52 L165.2,344.56 L165.7,344.58 L166.2,344.59 L166.7,344.59 L167.2,344.60 L167.7,344.60 L168.2,344.60 L168.7,344.60 L169.2,344.60 L169.7,344.60 L170.2,344.60 L170.7,344.60 L171.2,344.60 L171.7,344.60 L172.2,344.60 L172.7,344.60 L173.2,344.60 L173.7,344.60 L174.2,344.60 L174.7,344.60" fill="none" stroke="#231f20" stroke-width="1.25" stroke-linejoin="round"/>
<line x1="47.7" y1="320.4" x2="53.5" y2="320.4" stroke="#231f20" stroke-width="1"/>
<line x1="47.7" y1="296.2" x2="53.5" y2="296.2" stroke="#231f20" stroke-width="1"/>
<line x1="47.7" y1="272" x2="53.5" y2="272" stroke="#231f20" stroke-width="1"/>
<line x1="47.7" y1="247.8" x2="53.5" y2="247.8" stroke="#231f20" stroke-width="1"/>
<line x1="47.7" y1="223.6" x2="53.5" y2="223.6" stroke="#231f20" stroke-width="1"/>
<text x="45" y="347.7" font-size="8.5" fill="#231f20" stroke="#231f20" stroke-width="0.1" text-anchor="end" >0</text>
<text x="45" y="323.5" font-size="8.5" fill="#231f20" stroke="#231f20" stroke-width="0.1" text-anchor="end" textLength="8.72" lengthAdjust="spacingAndGlyphs" >20</text>
<text x="45" y="299.3" font-size="8.5" fill="#231f20" stroke="#231f20" stroke-width="0.1" text-anchor="end" textLength="8.72" lengthAdjust="spacingAndGlyphs" >40</text>
<text x="45" y="275.1" font-size="8.5" fill="#231f20" stroke="#231f20" stroke-width="0.1" text-anchor="end" textLength="8.72" lengthAdjust="spacingAndGlyphs" >60</text>
<text x="45" y="250.9" font-size="8.5" fill="#231f20" stroke="#231f20" stroke-width="0.1" text-anchor="end" textLength="8.72" lengthAdjust="spacingAndGlyphs" >80</text>
<text x="45" y="226.7" font-size="8.5" fill="#231f20" stroke="#231f20" stroke-width="0.1" text-anchor="end" textLength="13.08" lengthAdjust="spacingAndGlyphs" >100</text>
<line x1="57.32" y1="344.6" x2="57.32" y2="341.1" stroke="#231f20" stroke-width="0.7"/>
<line x1="62.94" y1="344.6" x2="62.94" y2="341.1" stroke="#231f20" stroke-width="0.7"/>
<line x1="66.94" y1="344.6" x2="66.94" y2="341.1" stroke="#231f20" stroke-width="0.7"/>
<line x1="70.03" y1="344.6" x2="70.03" y2="341.1" stroke="#231f20" stroke-width="0.7"/>
<line x1="72.56" y1="344.6" x2="72.56" y2="341.1" stroke="#231f20" stroke-width="0.7"/>
<line x1="74.7" y1="344.6" x2="74.7" y2="341.1" stroke="#231f20" stroke-width="0.7"/>
<line x1="76.55" y1="344.6" x2="76.55" y2="341.1" stroke="#231f20" stroke-width="0.7"/>
<line x1="78.19" y1="344.6" x2="78.19" y2="341.1" stroke="#231f20" stroke-width="0.7"/>
<line x1="79.65" y1="344.6" x2="79.65" y2="338.6" stroke="#231f20" stroke-width="0.9"/>
<line x1="89.27" y1="344.6" x2="89.27" y2="341.1" stroke="#231f20" stroke-width="0.7"/>
<line x1="94.89" y1="344.6" x2="94.89" y2="341.1" stroke="#231f20" stroke-width="0.7"/>
<line x1="98.89" y1="344.6" x2="98.89" y2="341.1" stroke="#231f20" stroke-width="0.7"/>
<line x1="101.98" y1="344.6" x2="101.98" y2="341.1" stroke="#231f20" stroke-width="0.7"/>
<line x1="104.51" y1="344.6" x2="104.51" y2="341.1" stroke="#231f20" stroke-width="0.7"/>
<line x1="106.65" y1="344.6" x2="106.65" y2="341.1" stroke="#231f20" stroke-width="0.7"/>
<line x1="108.5" y1="344.6" x2="108.5" y2="341.1" stroke="#231f20" stroke-width="0.7"/>
<line x1="110.14" y1="344.6" x2="110.14" y2="341.1" stroke="#231f20" stroke-width="0.7"/>
<line x1="111.6" y1="344.6" x2="111.6" y2="338.6" stroke="#231f20" stroke-width="0.9"/>
<line x1="121.22" y1="344.6" x2="121.22" y2="341.1" stroke="#231f20" stroke-width="0.7"/>
<line x1="126.84" y1="344.6" x2="126.84" y2="341.1" stroke="#231f20" stroke-width="0.7"/>
<line x1="130.84" y1="344.6" x2="130.84" y2="341.1" stroke="#231f20" stroke-width="0.7"/>
<line x1="133.93" y1="344.6" x2="133.93" y2="341.1" stroke="#231f20" stroke-width="0.7"/>
<line x1="136.46" y1="344.6" x2="136.46" y2="341.1" stroke="#231f20" stroke-width="0.7"/>
<line x1="138.6" y1="344.6" x2="138.6" y2="341.1" stroke="#231f20" stroke-width="0.7"/>
<line x1="140.45" y1="344.6" x2="140.45" y2="341.1" stroke="#231f20" stroke-width="0.7"/>
<line x1="142.09" y1="344.6" x2="142.09" y2="341.1" stroke="#231f20" stroke-width="0.7"/>
<line x1="143.55" y1="344.6" x2="143.55" y2="338.6" stroke="#231f20" stroke-width="0.9"/>
<line x1="153.17" y1="344.6" x2="153.17" y2="341.1" stroke="#231f20" stroke-width="0.7"/>
<line x1="158.79" y1="344.6" x2="158.79" y2="341.1" stroke="#231f20" stroke-width="0.7"/>
<line x1="162.79" y1="344.6" x2="162.79" y2="341.1" stroke="#231f20" stroke-width="0.7"/>
<line x1="165.88" y1="344.6" x2="165.88" y2="341.1" stroke="#231f20" stroke-width="0.7"/>
<line x1="168.41" y1="344.6" x2="168.41" y2="341.1" stroke="#231f20" stroke-width="0.7"/>
<line x1="170.55" y1="344.6" x2="170.55" y2="341.1" stroke="#231f20" stroke-width="0.7"/>
<line x1="172.4" y1="344.6" x2="172.4" y2="341.1" stroke="#231f20" stroke-width="0.7"/>
<line x1="174.04" y1="344.6" x2="174.04" y2="341.1" stroke="#231f20" stroke-width="0.7"/>
<text x="50.2" y="356.8" font-size="8.5" fill="#231f20" stroke="#231f20" stroke-width="0.1" text-anchor="end" textLength="8.72" lengthAdjust="spacingAndGlyphs" >10</text>
<text x="50.4" y="353.4" font-size="6" fill="#231f20" stroke="#231f20" stroke-width="0.1" >0</text>
<text x="114.1" y="356.8" font-size="8.5" fill="#231f20" stroke="#231f20" stroke-width="0.1" text-anchor="end" textLength="8.72" lengthAdjust="spacingAndGlyphs" >10</text>
<text x="114.3" y="353.4" font-size="6" fill="#231f20" stroke="#231f20" stroke-width="0.1" >2</text>
<text x="178" y="356.8" font-size="8.5" fill="#231f20" stroke="#231f20" stroke-width="0.1" text-anchor="end" textLength="8.72" lengthAdjust="spacingAndGlyphs" >10</text>
<text x="178.2" y="353.4" font-size="6" fill="#231f20" stroke="#231f20" stroke-width="0.1" >4</text>
<text x="111.9" y="369.7" font-size="9" fill="#231f20" stroke="#231f20" stroke-width="0.1" text-anchor="middle" textLength="18.7" lengthAdjust="spacingAndGlyphs" >CFSE</text>
<line x1="59.2" y1="233.8" x2="70.2" y2="233.8" stroke="#231f20" stroke-width="1.3"/>
<text x="73" y="236.9" font-size="9" fill="#231f20" stroke="#231f20" stroke-width="0.1" textLength="13.6" lengthAdjust="spacingAndGlyphs" >+/+</text>
<line x1="59.2" y1="245.05" x2="70.2" y2="245.05" stroke="#bf2a4a" stroke-width="1.3"/>
<text x="73" y="248.15" font-size="8.5" fill="#231f20" stroke="#231f20" stroke-width="0.1" font-style="italic" textLength="21.2" lengthAdjust="spacingAndGlyphs" >Mcl-1</text>
<line x1="59.2" y1="256.3" x2="70.2" y2="256.3" stroke="#4d78b0" stroke-width="1.3"/>
<text x="73" y="259.4" font-size="8.5" fill="#231f20" stroke="#231f20" stroke-width="0.1" font-style="italic" textLength="21.2" lengthAdjust="spacingAndGlyphs" >BCL-2</text>
<text x="216.7" y="212" font-size="9" fill="#231f20" stroke="#231f20" stroke-width="0.1" textLength="18.7" lengthAdjust="spacingAndGlyphs" >65 hr</text>
<rect x="215.5" y="219.4" width="127.8" height="125.2" fill="none" stroke="#231f20" stroke-width="1.2"/>
<line x1="214.9" y1="344.6" x2="343.9" y2="344.6" stroke="#231f20" stroke-width="2"/>
<path d="M216.0,344.60 L216.5,344.60 L217.0,344.60 L217.5,344.60 L218.0,344.60 L218.5,344.60 L219.0,344.60 L219.5,344.60 L220.0,344.60 L220.5,344.60 L221.0,344.60 L221.5,344.60 L222.0,344.60 L222.5,344.60 L223.0,344.60 L223.5,344.60 L224.0,344.60 L224.5,344.60 L225.0,344.60 L225.5,344.60 L226.0,344.60 L226.5,344.60 L227.0,344.60 L227.5,344.60 L228.0,344.60 L228.5,344.60 L229.0,344.60 L229.5,344.60 L230.0,344.60 L230.5,344.60 L231.0,344.60 L231.5,344.60 L232.0,344.60 L232.5,344.60 L233.0,344.60 L233.5,344.60 L234.0,344.60 L234.5,344.60 L235.0,344.60 L235.5,344.60 L236.0,344.60 L236.5,344.60 L237.0,344.60 L237.5,344.60 L238.0,344.60 L238.5,344.60 L239.0,344.60 L239.5,344.60 L240.0,344.60 L240.5,344.60 L241.0,344.60 L241.5,344.60 L242.0,344.60 L242.5,344.60 L243.0,344.60 L243.5,344.60 L244.0,344.60 L244.5,344.60 L245.0,344.60 L245.5,344.60 L246.0,344.60 L246.5,344.60 L247.0,344.60 L247.5,344.60 L248.0,344.60 L248.5,344.60 L249.0,344.60 L249.5,344.60 L250.0,344.60 L250.5,344.60 L251.0,344.60 L251.5,344.60 L252.0,344.60 L252.5,344.60 L253.0,344.60 L253.5,344.60 L254.0,344.60 L254.5,344.60 L255.0,344.60 L255.5,344.60 L256.0,344.60 L256.5,344.60 L257.0,344.60 L257.5,344.60 L258.0,344.60 L258.5,344.60 L259.0,344.60 L259.5,344.60 L260.0,344.60 L260.5,344.60 L261.0,344.59 L261.5,344.59 L262.0,344.57 L262.5,344.55 L263.0,344.50 L263.5,344.44 L264.0,344.33 L264.5,344.17 L265.0,343.94 L265.5,343.64 L266.0,343.25 L266.5,342.78 L267.0,342.24 L267.5,341.66 L268.0,341.08 L268.5,340.55 L269.0,340.12 L269.5,339.83 L270.0,339.70 L270.5,339.73 L271.0,339.88 L271.5,340.07 L272.0,340.19 L272.5,340.08 L273.0,339.57 L273.5,338.45 L274.0,336.54 L274.5,333.68 L275.0,329.78 L275.5,324.89 L276.0,319.21 L276.5,313.09 L277.0,307.05 L277.5,301.70 L278.0,297.62 L278.5,295.31 L279.0,295.03 L279.5,296.79 L280.0,300.28 L280.5,304.93 L281.0,310.01 L281.5,314.67 L282.0,318.07 L282.5,319.44 L283.0,318.15 L283.5,313.79 L284.0,306.22 L284.5,295.68 L285.0,282.80 L285.5,268.65 L286.0,254.63 L286.5,242.34 L287.0,233.31 L287.5,228.74 L288.0,229.24 L288.5,234.74 L289.0,244.47 L289.5,257.13 L290.0,271.13 L290.5,284.88 L291.0,296.97 L291.5,306.41 L292.0,312.60 L292.5,315.39 L293.0,315.00 L293.5,311.93 L294.0,306.94 L294.5,300.94 L295.0,294.89 L295.5,289.76 L296.0,286.34 L296.5,285.16 L297.0,286.45 L297.5,290.06 L298.0,295.52 L298.5,302.16 L299.0,309.19 L299.5,315.88 L300.0,321.59 L300.5,325.88 L301.0,328.48 L301.5,329.33 L302.0,328.49 L302.5,326.17 L303.0,322.66 L303.5,318.35 L304.0,313.69 L304.5,309.18 L305.0,305.30 L305.5,302.48 L306.0,301.04 L306.5,301.14 L307.0,302.74 L307.5,305.65 L308.0,309.52 L308.5,313.92 L309.0,318.38 L309.5,322.50 L310.0,325.94 L310.5,328.52 L311.0,330.13 L311.5,330.84 L312.0,330.76 L312.5,330.10 L313.0,329.11 L313.5,328.03 L314.0,327.08 L314.5,326.45 L315.0,326.28 L315.5,326.61 L316.0,327.44 L316.5,328.70 L317.0,330.26 L317.5,331.97 L318.0,333.68 L318.5,335.22 L319.0,336.47 L319.5,337.32 L320.0,337.71 L320.5,337.61 L321.0,337.03 L321.5,336.03 L322.0,334.67 L322.5,333.09 L323.0,331.41 L323.5,329.77 L324.0,328.34 L324.5,327.25 L325.0,326.59 L325.5,326.44 L326.0,326.83 L326.5,327.71 L327.0,329.01 L327.5,330.64 L328.0,332.46 L328.5,334.35 L329.0,336.20 L329.5,337.92 L330.0,339.44 L330.5,340.73 L331.0,341.79 L331.5,342.61 L332.0,343.24 L332.5,343.69 L333.0,344.01 L333.5,344.23 L334.0,344.38 L334.5,344.47 L335.0,344.52 L335.5,344.56 L336.0,344.58 L336.5,344.59 L337.0,344.59 L337.5,344.60 L338.0,344.60 L338.5,344.60 L339.0,344.60 L339.5,344.60 L340.0,344.60 L340.5,344.60 L341.0,344.60 L341.5,344.60 L342.0,344.60 L342.5,344.60" fill="none" stroke="#4d78b0" stroke-width="1.25" stroke-linejoin="round"/>
<path d="M216.0,344.60 L216.5,344.60 L217.0,344.60 L217.5,344.60 L218.0,344.60 L218.5,344.60 L219.0,344.60 L219.5,344.60 L220.0,344.60 L220.5,344.60 L221.0,344.60 L221.5,344.60 L222.0,344.60 L222.5,344.60 L223.0,344.60 L223.5,344.60 L224.0,344.60 L224.5,344.60 L225.0,344.60 L225.5,344.60 L226.0,344.60 L226.5,344.60 L227.0,344.60 L227.5,344.60 L228.0,344.60 L228.5,344.60 L229.0,344.60 L229.5,344.60 L230.0,344.60 L230.5,344.60 L231.0,344.60 L231.5,344.60 L232.0,344.60 L232.5,344.60 L233.0,344.60 L233.5,344.60 L234.0,344.60 L234.5,344.60 L235.0,344.60 L235.5,344.60 L236.0,344.60 L236.5,344.60 L237.0,344.60 L237.5,344.60 L238.0,344.60 L238.5,344.60 L239.0,344.60 L239.5,344.60 L240.0,344.60 L240.5,344.60 L241.0,344.60 L241.5,344.60 L242.0,344.60 L242.5,344.60 L243.0,344.60 L243.5,344.60 L244.0,344.60 L244.5,344.60 L245.0,344.60 L245.5,344.60 L246.0,344.60 L246.5,344.60 L247.0,344.60 L247.5,344.60 L248.0,344.60 L248.5,344.60 L249.0,344.60 L249.5,344.60 L250.0,344.60 L250.5,344.60 L251.0,344.60 L251.5,344.60 L252.0,344.60 L252.5,344.60 L253.0,344.60 L253.5,344.60 L254.0,344.60 L254.5,344.60 L255.0,344.60 L255.5,344.60 L256.0,344.60 L256.5,344.60 L257.0,344.60 L257.5,344.60 L258.0,344.60 L258.5,344.60 L259.0,344.60 L259.5,344.60 L260.0,344.60 L260.5,344.60 L261.0,344.59 L261.5,344.59 L262.0,344.57 L262.5,344.55 L263.0,344.50 L263.5,344.44 L264.0,344.33 L264.5,344.17 L265.0,343.94 L265.5,343.64 L266.0,343.25 L266.5,342.78 L267.0,342.24 L267.5,341.66 L268.0,341.08 L268.5,340.56 L269.0,340.13 L269.5,339.84 L270.0,339.73 L270.5,339.79 L271.0,339.98 L271.5,340.25 L272.0,340.49 L272.5,340.56 L273.0,340.28 L273.5,339.47 L274.0,337.91 L274.5,335.42 L275.0,331.89 L275.5,327.31 L276.0,321.84 L276.5,315.81 L277.0,309.76 L277.5,304.32 L278.0,300.13 L278.5,297.76 L279.0,297.49 L279.5,299.34 L280.0,302.98 L280.5,307.81 L281.0,313.05 L281.5,317.81 L282.0,321.23 L282.5,322.55 L283.0,321.14 L283.5,316.60 L284.0,308.76 L284.5,297.82 L285.0,284.43 L285.5,269.64 L286.0,254.93 L286.5,241.99 L287.0,232.44 L287.5,227.60 L288.0,228.12 L288.5,233.92 L289.0,244.15 L289.5,257.39 L290.0,271.89 L290.5,285.92 L291.0,297.95 L291.5,306.88 L292.0,312.02 L292.5,313.17 L293.0,310.50 L293.5,304.57 L294.0,296.27 L294.5,286.74 L295.0,277.32 L295.5,269.37 L296.0,264.07 L296.5,262.24 L297.0,264.20 L297.5,269.70 L298.0,278.02 L298.5,288.11 L299.0,298.79 L299.5,309.00 L300.0,317.92 L300.5,325.01 L301.0,330.02 L301.5,332.95 L302.0,333.95 L302.5,333.24 L303.0,331.13 L303.5,328.00 L304.0,324.28 L304.5,320.46 L305.0,317.04 L305.5,314.50 L306.0,313.20 L306.5,313.32 L307.0,314.84 L307.5,317.54 L308.0,321.03 L308.5,324.87 L309.0,328.62 L309.5,331.92 L310.0,334.55 L310.5,336.40 L311.0,337.50 L311.5,337.98 L312.0,338.02 L312.5,337.80 L313.0,337.50 L313.5,337.28 L314.0,337.24 L314.5,337.43 L315.0,337.86 L315.5,338.49 L316.0,339.26 L316.5,340.09 L317.0,340.90 L317.5,341.61 L318.0,342.17 L318.5,342.56 L319.0,342.78 L319.5,342.82 L320.0,342.72 L320.5,342.52 L321.0,342.26 L321.5,341.99 L322.0,341.76 L322.5,341.61 L323.0,341.56 L323.5,341.63 L324.0,341.81 L324.5,342.07 L325.0,342.40 L325.5,342.77 L326.0,343.13 L326.5,343.46 L327.0,343.76 L327.5,344.00 L328.0,344.19 L328.5,344.33 L329.0,344.43 L329.5,344.50 L330.0,344.54 L330.5,344.57 L331.0,344.58 L331.5,344.59 L332.0,344.60 L332.5,344.60 L333.0,344.60 L333.5,344.60 L334.0,344.60 L334.5,344.60 L335.0,344.60 L335.5,344.60 L336.0,344.60 L336.5,344.60 L337.0,344.60 L337.5,344.60 L338.0,344.60 L338.5,344.60 L339.0,344.60 L339.5,344.60 L340.0,344.60 L340.5,344.60 L341.0,344.60 L341.5,344.60 L342.0,344.60 L342.5,344.60" fill="none" stroke="#bf2a4a" stroke-width="1.25" stroke-linejoin="round"/>
<path d="M216.0,344.60 L216.5,344.60 L217.0,344.60 L217.5,344.60 L218.0,344.60 L218.5,344.60 L219.0,344.60 L219.5,344.60 L220.0,344.60 L220.5,344.60 L221.0,344.60 L221.5,344.60 L222.0,344.60 L222.5,344.60 L223.0,344.60 L223.5,344.60 L224.0,344.60 L224.5,344.60 L225.0,344.60 L225.5,344.60 L226.0,344.60 L226.5,344.60 L227.0,344.60 L227.5,344.60 L228.0,344.60 L228.5,344.60 L229.0,344.60 L229.5,344.60 L230.0,344.60 L230.5,344.60 L231.0,344.60 L231.5,344.60 L232.0,344.60 L232.5,344.60 L233.0,344.60 L233.5,344.60 L234.0,344.60 L234.5,344.60 L235.0,344.60 L235.5,344.60 L236.0,344.60 L236.5,344.60 L237.0,344.60 L237.5,344.60 L238.0,344.60 L238.5,344.60 L239.0,344.60 L239.5,344.60 L240.0,344.60 L240.5,344.60 L241.0,344.60 L241.5,344.60 L242.0,344.60 L242.5,344.60 L243.0,344.60 L243.5,344.60 L244.0,344.60 L244.5,344.60 L245.0,344.60 L245.5,344.60 L246.0,344.60 L246.5,344.60 L247.0,344.60 L247.5,344.60 L248.0,344.60 L248.5,344.60 L249.0,344.60 L249.5,344.60 L250.0,344.60 L250.5,344.60 L251.0,344.60 L251.5,344.60 L252.0,344.60 L252.5,344.60 L253.0,344.60 L253.5,344.60 L254.0,344.60 L254.5,344.60 L255.0,344.60 L255.5,344.60 L256.0,344.60 L256.5,344.60 L257.0,344.60 L257.5,344.60 L258.0,344.60 L258.5,344.60 L259.0,344.60 L259.5,344.60 L260.0,344.60 L260.5,344.60 L261.0,344.60 L261.5,344.60 L262.0,344.60 L262.5,344.60 L263.0,344.60 L263.5,344.59 L264.0,344.58 L264.5,344.53 L265.0,344.43 L265.5,344.22 L266.0,343.81 L266.5,343.10 L267.0,342.01 L267.5,340.53 L268.0,338.77 L268.5,336.95 L269.0,335.37 L269.5,334.25 L270.0,333.68 L270.5,333.55 L271.0,333.60 L271.5,333.57 L272.0,333.26 L272.5,332.58 L273.0,331.46 L273.5,329.84 L274.0,327.55 L274.5,324.40 L275.0,320.18 L275.5,314.83 L276.0,308.47 L276.5,301.49 L277.0,294.49 L277.5,288.20 L278.0,283.39 L278.5,280.68 L279.0,280.42 L279.5,282.65 L280.0,287.02 L280.5,292.88 L281.0,299.36 L281.5,305.49 L282.0,310.28 L282.5,312.87 L283.0,312.60 L283.5,309.03 L284.0,302.09 L284.5,292.06 L285.0,279.66 L285.5,265.97 L286.0,252.41 L286.5,240.55 L287.0,231.85 L287.5,227.45 L288.0,227.95 L288.5,233.27 L289.0,242.71 L289.5,255.04 L290.0,268.76 L290.5,282.34 L291.0,294.42 L291.5,304.00 L292.0,310.50 L292.5,313.72 L293.0,313.85 L293.5,311.40 L294.0,307.07 L294.5,301.72 L295.0,296.30 L295.5,291.68 L296.0,288.60 L296.5,287.58 L297.0,288.82 L297.5,292.20 L298.0,297.35 L298.5,303.67 L299.0,310.50 L299.5,317.19 L300.0,323.21 L300.5,328.16 L301.0,331.85 L301.5,334.21 L302.0,335.30 L302.5,335.29 L303.0,334.38 L303.5,332.83 L304.0,330.93 L304.5,328.96 L305.0,327.20 L305.5,325.91 L306.0,325.25 L306.5,325.32 L307.0,326.13 L307.5,327.56 L308.0,329.46 L308.5,331.60 L309.0,333.77 L309.5,335.78 L310.0,337.49 L310.5,338.83 L311.0,339.77 L311.5,340.35 L312.0,340.65 L312.5,340.76 L313.0,340.77 L313.5,340.77 L314.0,340.82 L314.5,340.96 L315.0,341.21 L315.5,341.55 L316.0,341.96 L316.5,342.39 L317.0,342.83 L317.5,343.24 L318.0,343.59 L318.5,343.88 L319.0,344.11 L319.5,344.28 L320.0,344.40 L320.5,344.48 L321.0,344.53 L321.5,344.56 L322.0,344.58 L322.5,344.59 L323.0,344.59 L323.5,344.60 L324.0,344.60 L324.5,344.60 L325.0,344.60 L325.5,344.60 L326.0,344.60 L326.5,344.60 L327.0,344.60 L327.5,344.60 L328.0,344.60 L328.5,344.60 L329.0,344.60 L329.5,344.60 L330.0,344.60 L330.5,344.60 L331.0,344.60 L331.5,344.60 L332.0,344.60 L332.5,344.60 L333.0,344.60 L333.5,344.60 L334.0,344.60 L334.5,344.60 L335.0,344.60 L335.5,344.60 L336.0,344.60 L336.5,344.60 L337.0,344.60 L337.5,344.60 L338.0,344.60 L338.5,344.60 L339.0,344.60 L339.5,344.60 L340.0,344.60 L340.5,344.60 L341.0,344.60 L341.5,344.60 L342.0,344.60 L342.5,344.60" fill="none" stroke="#231f20" stroke-width="1.25" stroke-linejoin="round"/>
<line x1="216" y1="344.6" x2="266" y2="344.6" stroke="#bf2a4a" stroke-width="1.1"/>
<line x1="215.5" y1="320.4" x2="221.3" y2="320.4" stroke="#231f20" stroke-width="1"/>
<line x1="215.5" y1="296.2" x2="221.3" y2="296.2" stroke="#231f20" stroke-width="1"/>
<line x1="215.5" y1="272" x2="221.3" y2="272" stroke="#231f20" stroke-width="1"/>
<line x1="215.5" y1="247.8" x2="221.3" y2="247.8" stroke="#231f20" stroke-width="1"/>
<line x1="215.5" y1="223.6" x2="221.3" y2="223.6" stroke="#231f20" stroke-width="1"/>
<text x="212.8" y="347.7" font-size="8.5" fill="#231f20" stroke="#231f20" stroke-width="0.1" text-anchor="end" >0</text>
<text x="212.8" y="323.5" font-size="8.5" fill="#231f20" stroke="#231f20" stroke-width="0.1" text-anchor="end" textLength="8.72" lengthAdjust="spacingAndGlyphs" >20</text>
<text x="212.8" y="299.3" font-size="8.5" fill="#231f20" stroke="#231f20" stroke-width="0.1" text-anchor="end" textLength="8.72" lengthAdjust="spacingAndGlyphs" >40</text>
<text x="212.8" y="275.1" font-size="8.5" fill="#231f20" stroke="#231f20" stroke-width="0.1" text-anchor="end" textLength="8.72" lengthAdjust="spacingAndGlyphs" >60</text>
<text x="212.8" y="250.9" font-size="8.5" fill="#231f20" stroke="#231f20" stroke-width="0.1" text-anchor="end" textLength="8.72" lengthAdjust="spacingAndGlyphs" >80</text>
<text x="212.8" y="226.7" font-size="8.5" fill="#231f20" stroke="#231f20" stroke-width="0.1" text-anchor="end" textLength="13.08" lengthAdjust="spacingAndGlyphs" >100</text>
<line x1="225.12" y1="344.6" x2="225.12" y2="341.1" stroke="#231f20" stroke-width="0.7"/>
<line x1="230.74" y1="344.6" x2="230.74" y2="341.1" stroke="#231f20" stroke-width="0.7"/>
<line x1="234.74" y1="344.6" x2="234.74" y2="341.1" stroke="#231f20" stroke-width="0.7"/>
<line x1="237.83" y1="344.6" x2="237.83" y2="341.1" stroke="#231f20" stroke-width="0.7"/>
<line x1="240.36" y1="344.6" x2="240.36" y2="341.1" stroke="#231f20" stroke-width="0.7"/>
<line x1="242.5" y1="344.6" x2="242.5" y2="341.1" stroke="#231f20" stroke-width="0.7"/>
<line x1="244.35" y1="344.6" x2="244.35" y2="341.1" stroke="#231f20" stroke-width="0.7"/>
<line x1="245.99" y1="344.6" x2="245.99" y2="341.1" stroke="#231f20" stroke-width="0.7"/>
<line x1="247.45" y1="344.6" x2="247.45" y2="338.6" stroke="#231f20" stroke-width="0.9"/>
<line x1="257.07" y1="344.6" x2="257.07" y2="341.1" stroke="#231f20" stroke-width="0.7"/>
<line x1="262.69" y1="344.6" x2="262.69" y2="341.1" stroke="#231f20" stroke-width="0.7"/>
<line x1="266.69" y1="344.6" x2="266.69" y2="341.1" stroke="#231f20" stroke-width="0.7"/>
<line x1="269.78" y1="344.6" x2="269.78" y2="341.1" stroke="#231f20" stroke-width="0.7"/>
<line x1="272.31" y1="344.6" x2="272.31" y2="341.1" stroke="#231f20" stroke-width="0.7"/>
<line x1="274.45" y1="344.6" x2="274.45" y2="341.1" stroke="#231f20" stroke-width="0.7"/>
<line x1="276.3" y1="344.6" x2="276.3" y2="341.1" stroke="#231f20" stroke-width="0.7"/>
<line x1="277.94" y1="344.6" x2="277.94" y2="341.1" stroke="#231f20" stroke-width="0.7"/>
<line x1="279.4" y1="344.6" x2="279.4" y2="338.6" stroke="#231f20" stroke-width="0.9"/>
<line x1="289.02" y1="344.6" x2="289.02" y2="341.1" stroke="#231f20" stroke-width="0.7"/>
<line x1="294.64" y1="344.6" x2="294.64" y2="341.1" stroke="#231f20" stroke-width="0.7"/>
<line x1="298.64" y1="344.6" x2="298.64" y2="341.1" stroke="#231f20" stroke-width="0.7"/>
<line x1="301.73" y1="344.6" x2="301.73" y2="341.1" stroke="#231f20" stroke-width="0.7"/>
<line x1="304.26" y1="344.6" x2="304.26" y2="341.1" stroke="#231f20" stroke-width="0.7"/>
<line x1="306.4" y1="344.6" x2="306.4" y2="341.1" stroke="#231f20" stroke-width="0.7"/>
<line x1="308.25" y1="344.6" x2="308.25" y2="341.1" stroke="#231f20" stroke-width="0.7"/>
<line x1="309.89" y1="344.6" x2="309.89" y2="341.1" stroke="#231f20" stroke-width="0.7"/>
<line x1="311.35" y1="344.6" x2="311.35" y2="338.6" stroke="#231f20" stroke-width="0.9"/>
<line x1="320.97" y1="344.6" x2="320.97" y2="341.1" stroke="#231f20" stroke-width="0.7"/>
<line x1="326.59" y1="344.6" x2="326.59" y2="341.1" stroke="#231f20" stroke-width="0.7"/>
<line x1="330.59" y1="344.6" x2="330.59" y2="341.1" stroke="#231f20" stroke-width="0.7"/>
<line x1="333.68" y1="344.6" x2="333.68" y2="341.1" stroke="#231f20" stroke-width="0.7"/>
<line x1="336.21" y1="344.6" x2="336.21" y2="341.1" stroke="#231f20" stroke-width="0.7"/>
<line x1="338.35" y1="344.6" x2="338.35" y2="341.1" stroke="#231f20" stroke-width="0.7"/>
<line x1="340.2" y1="344.6" x2="340.2" y2="341.1" stroke="#231f20" stroke-width="0.7"/>
<line x1="341.84" y1="344.6" x2="341.84" y2="341.1" stroke="#231f20" stroke-width="0.7"/>
<text x="218" y="356.8" font-size="8.5" fill="#231f20" stroke="#231f20" stroke-width="0.1" text-anchor="end" textLength="8.72" lengthAdjust="spacingAndGlyphs" >10</text>
<text x="218.2" y="353.4" font-size="6" fill="#231f20" stroke="#231f20" stroke-width="0.1" >0</text>
<text x="281.9" y="356.8" font-size="8.5" fill="#231f20" stroke="#231f20" stroke-width="0.1" text-anchor="end" textLength="8.72" lengthAdjust="spacingAndGlyphs" >10</text>
<text x="282.1" y="353.4" font-size="6" fill="#231f20" stroke="#231f20" stroke-width="0.1" >2</text>
<text x="345.8" y="356.8" font-size="8.5" fill="#231f20" stroke="#231f20" stroke-width="0.1" text-anchor="end" textLength="8.72" lengthAdjust="spacingAndGlyphs" >10</text>
<text x="346" y="353.4" font-size="6" fill="#231f20" stroke="#231f20" stroke-width="0.1" >4</text>
<text x="279.7" y="369.7" font-size="9" fill="#231f20" stroke="#231f20" stroke-width="0.1" text-anchor="middle" textLength="18.7" lengthAdjust="spacingAndGlyphs" >CFSE</text>
<line x1="227" y1="233.8" x2="238" y2="233.8" stroke="#231f20" stroke-width="1.3"/>
<text x="240.8" y="236.9" font-size="9" fill="#231f20" stroke="#231f20" stroke-width="0.1" textLength="13.6" lengthAdjust="spacingAndGlyphs" >+/+</text>
<line x1="227" y1="245.05" x2="238" y2="245.05" stroke="#bf2a4a" stroke-width="1.3"/>
<text x="240.8" y="248.15" font-size="8.5" fill="#231f20" stroke="#231f20" stroke-width="0.1" font-style="italic" textLength="21.2" lengthAdjust="spacingAndGlyphs" >Mcl-1</text>
<line x1="227" y1="256.3" x2="238" y2="256.3" stroke="#4d78b0" stroke-width="1.3"/>
<text x="240.8" y="259.4" font-size="8.5" fill="#231f20" stroke="#231f20" stroke-width="0.1" font-style="italic" textLength="21.2" lengthAdjust="spacingAndGlyphs" >BCL-2</text>
<text x="382.6" y="212" font-size="9" fill="#231f20" stroke="#231f20" stroke-width="0.1" textLength="19" lengthAdjust="spacingAndGlyphs" >89 hr</text>
<rect x="381.4" y="219.4" width="127.8" height="125.2" fill="none" stroke="#231f20" stroke-width="1.2"/>
<line x1="380.8" y1="344.6" x2="509.8" y2="344.6" stroke="#231f20" stroke-width="2"/>
<path d="M381.9,344.60 L382.4,344.60 L382.9,344.60 L383.4,344.60 L383.9,344.60 L384.4,344.60 L384.9,344.60 L385.4,344.60 L385.9,344.60 L386.4,344.60 L386.9,344.60 L387.4,344.60 L387.9,344.60 L388.4,344.60 L388.9,344.60 L389.4,344.60 L389.9,344.60 L390.4,344.60 L390.9,344.60 L391.4,344.60 L391.9,344.60 L392.4,344.60 L392.9,344.60 L393.4,344.60 L393.9,344.60 L394.4,344.60 L394.9,344.60 L395.4,344.60 L395.9,344.60 L396.4,344.60 L396.9,344.60 L397.4,344.60 L397.9,344.60 L398.4,344.60 L398.9,344.60 L399.4,344.60 L399.9,344.60 L400.4,344.60 L400.9,344.60 L401.4,344.60 L401.9,344.60 L402.4,344.60 L402.9,344.60 L403.4,344.60 L403.9,344.60 L404.4,344.60 L404.9,344.60 L405.4,344.60 L405.9,344.60 L406.4,344.60 L406.9,344.60 L407.4,344.60 L407.9,344.60 L408.4,344.60 L408.9,344.60 L409.4,344.60 L409.9,344.60 L410.4,344.60 L410.9,344.60 L411.4,344.60 L411.9,344.60 L412.4,344.60 L412.9,344.60 L413.4,344.60 L413.9,344.60 L414.4,344.60 L414.9,344.60 L415.4,344.60 L415.9,344.60 L416.4,344.60 L416.9,344.60 L417.4,344.60 L417.9,344.60 L418.4,344.60 L418.9,344.60 L419.4,344.60 L419.9,344.60 L420.4,344.60 L420.9,344.60 L421.4,344.60 L421.9,344.60 L422.4,344.60 L422.9,344.60 L423.4,344.59 L423.9,344.58 L424.4,344.56 L424.9,344.50 L425.4,344.38 L425.9,344.17 L426.4,343.82 L426.9,343.30 L427.4,342.56 L427.9,341.62 L428.4,340.48 L428.9,339.17 L429.4,337.71 L429.9,336.15 L430.4,334.53 L430.9,332.92 L431.4,331.43 L431.9,330.13 L432.4,329.08 L432.9,328.19 L433.4,327.23 L433.9,325.82 L434.4,323.52 L434.9,320.09 L435.4,315.64 L435.9,310.70 L436.4,305.95 L436.9,301.98 L437.4,298.96 L437.9,296.71 L438.4,294.82 L438.9,292.96 L439.4,290.63 L439.9,287.42 L440.4,284.30 L440.9,284.26 L441.4,289.07 L441.9,295.13 L442.4,295.79 L442.9,289.39 L443.4,282.74 L443.9,283.98 L444.4,293.46 L444.9,304.12 L445.4,309.42 L445.9,308.15 L446.4,302.21 L446.9,293.11 L447.4,281.39 L447.9,267.84 L448.4,254.04 L448.9,241.98 L449.4,233.44 L449.9,229.65 L450.4,231.14 L450.9,237.62 L451.4,248.09 L451.9,260.97 L452.4,274.42 L452.9,286.63 L453.4,296.01 L453.9,301.42 L454.4,302.20 L454.9,298.24 L455.4,289.97 L455.9,278.36 L456.4,264.84 L456.9,251.18 L457.4,239.26 L457.9,230.83 L458.4,227.17 L458.9,228.86 L459.4,235.70 L459.9,246.76 L460.4,260.54 L460.9,275.34 L461.4,289.50 L461.9,301.64 L462.4,310.80 L462.9,316.49 L463.4,318.60 L463.9,317.38 L464.4,313.35 L464.9,307.30 L465.4,300.18 L465.9,293.07 L466.4,287.03 L466.9,283.00 L467.4,281.61 L467.9,283.12 L468.4,287.34 L468.9,293.71 L469.4,301.45 L469.9,309.66 L470.4,317.55 L470.9,324.50 L471.4,330.11 L471.9,334.21 L472.4,336.81 L472.9,337.98 L473.4,337.87 L473.9,336.64 L474.4,334.48 L474.9,331.60 L475.4,328.30 L475.9,324.93 L476.4,321.88 L476.9,319.52 L477.4,318.18 L477.9,318.04 L478.4,319.11 L478.9,321.22 L479.4,324.09 L479.9,327.31 L480.4,330.50 L480.9,333.31 L481.4,335.49 L481.9,336.90 L482.4,337.52 L482.9,337.38 L483.4,336.63 L483.9,335.44 L484.4,334.01 L484.9,332.57 L485.4,331.32 L485.9,330.44 L486.4,330.05 L486.9,330.22 L487.4,330.92 L487.9,332.06 L488.4,333.50 L488.9,335.07 L489.4,336.60 L489.9,337.93 L490.4,338.96 L490.9,339.62 L491.4,339.89 L491.9,339.82 L492.4,339.46 L492.9,338.92 L493.4,338.30 L493.9,337.72 L494.4,337.26 L494.9,336.99 L495.4,336.91 L495.9,337.03 L496.4,337.27 L496.9,337.58 L497.4,337.87 L497.9,338.09 L498.4,338.20 L498.9,338.20 L499.4,338.13 L499.9,338.04 L500.4,338.02 L500.9,338.11 L501.4,338.35 L501.9,338.77 L502.4,339.34 L502.9,340.02 L503.4,340.76 L503.9,341.50 L504.4,342.19 L504.9,342.81 L505.4,343.31 L505.9,343.71 L506.4,344.01 L506.9,344.23 L507.4,344.37 L507.9,344.47 L508.4,344.52" fill="none" stroke="#4d78b0" stroke-width="1.25" stroke-linejoin="round"/>
<path d="M381.9,344.60 L382.4,344.60 L382.9,344.60 L383.4,344.60 L383.9,344.60 L384.4,344.60 L384.9,344.60 L385.4,344.60 L385.9,344.60 L386.4,344.60 L386.9,344.60 L387.4,344.60 L387.9,344.60 L388.4,344.60 L388.9,344.60 L389.4,344.60 L389.9,344.60 L390.4,344.60 L390.9,344.60 L391.4,344.60 L391.9,344.60 L392.4,344.60 L392.9,344.60 L393.4,344.60 L393.9,344.60 L394.4,344.60 L394.9,344.60 L395.4,344.60 L395.9,344.60 L396.4,344.60 L396.9,344.60 L397.4,344.60 L397.9,344.60 L398.4,344.60 L398.9,344.60 L399.4,344.60 L399.9,344.60 L400.4,344.60 L400.9,344.60 L401.4,344.60 L401.9,344.60 L402.4,344.60 L402.9,344.60 L403.4,344.60 L403.9,344.60 L404.4,344.60 L404.9,344.60 L405.4,344.60 L405.9,344.60 L406.4,344.60 L406.9,344.60 L407.4,344.60 L407.9,344.60 L408.4,344.60 L408.9,344.60 L409.4,344.60 L409.9,344.60 L410.4,344.60 L410.9,344.60 L411.4,344.60 L411.9,344.60 L412.4,344.60 L412.9,344.60 L413.4,344.60 L413.9,344.60 L414.4,344.60 L414.9,344.60 L415.4,344.60 L415.9,344.60 L416.4,344.60 L416.9,344.60 L417.4,344.60 L417.9,344.60 L418.4,344.60 L418.9,344.60 L419.4,344.60 L419.9,344.60 L420.4,344.60 L420.9,344.60 L421.4,344.60 L421.9,344.60 L422.4,344.60 L422.9,344.60 L423.4,344.59 L423.9,344.58 L424.4,344.56 L424.9,344.50 L425.4,344.38 L425.9,344.17 L426.4,343.82 L426.9,343.30 L427.4,342.56 L427.9,341.62 L428.4,340.48 L428.9,339.17 L429.4,337.71 L429.9,336.15 L430.4,334.53 L430.9,332.92 L431.4,331.43 L431.9,330.13 L432.4,329.08 L432.9,328.19 L433.4,327.23 L433.9,325.81 L434.4,323.50 L434.9,320.02 L435.4,315.45 L435.9,310.27 L436.4,305.11 L436.9,300.56 L437.4,296.88 L437.9,293.96 L438.4,291.50 L438.9,289.19 L439.4,286.51 L439.9,282.94 L440.4,279.52 L440.9,279.45 L441.4,284.63 L441.9,291.19 L442.4,291.90 L442.9,285.02 L443.4,277.89 L443.9,279.32 L444.4,289.71 L444.9,301.45 L445.4,307.51 L445.9,306.61 L446.4,300.81 L446.9,291.72 L447.4,279.91 L447.9,266.16 L448.4,252.12 L448.9,239.82 L449.4,231.10 L449.9,227.23 L450.4,228.76 L450.9,235.39 L451.4,246.09 L451.9,259.27 L452.4,273.06 L452.9,285.60 L453.4,295.30 L453.9,301.00 L454.4,302.05 L454.9,298.34 L455.4,290.31 L455.9,278.91 L456.4,265.59 L456.9,252.10 L457.4,240.33 L457.9,231.99 L458.4,228.37 L458.9,230.06 L459.4,236.84 L459.9,247.80 L460.4,261.47 L460.9,276.18 L461.4,290.29 L461.9,302.46 L462.4,311.77 L462.9,317.75 L463.4,320.32 L463.9,319.73 L464.4,316.50 L464.9,311.35 L465.4,305.17 L465.9,298.95 L466.4,293.64 L466.9,290.09 L467.4,288.87 L467.9,290.21 L468.4,293.94 L468.9,299.58 L469.4,306.43 L469.9,313.70 L470.4,320.68 L470.9,326.82 L471.4,331.79 L471.9,335.43 L472.4,337.74 L472.9,338.80 L473.4,338.74 L473.9,337.70 L474.4,335.84 L474.9,333.37 L475.4,330.52 L475.9,327.61 L476.4,324.97 L476.9,322.94 L477.4,321.79 L477.9,321.67 L478.4,322.60 L478.9,324.45 L479.4,326.96 L479.9,329.80 L480.4,332.66 L480.9,335.26 L481.4,337.41 L481.9,339.00 L482.4,340.03 L482.9,340.57 L483.4,340.72 L483.9,340.59 L484.4,340.33 L484.9,340.04 L485.4,339.81 L485.9,339.72 L486.4,339.80 L486.9,340.06 L487.4,340.46 L487.9,340.97 L488.4,341.55 L488.9,342.13 L489.4,342.68 L489.9,343.17 L490.4,343.57 L490.9,343.89 L491.4,344.13 L491.9,344.30 L492.4,344.42 L492.9,344.49 L493.4,344.54 L493.9,344.57 L494.4,344.58 L494.9,344.59 L495.4,344.60 L495.9,344.60 L496.4,344.60 L496.9,344.60 L497.4,344.60 L497.9,344.60 L498.4,344.60 L498.9,344.60 L499.4,344.60 L499.9,344.60 L500.4,344.60 L500.9,344.60 L501.4,344.60 L501.9,344.60 L502.4,344.60 L502.9,344.60 L503.4,344.60 L503.9,344.60 L504.4,344.60 L504.9,344.60 L505.4,344.60 L505.9,344.60 L506.4,344.60 L506.9,344.60 L507.4,344.60 L507.9,344.60 L508.4,344.60" fill="none" stroke="#bf2a4a" stroke-width="1.25" stroke-linejoin="round"/>
<path d="M381.9,344.60 L382.4,344.60 L382.9,344.60 L383.4,344.60 L383.9,344.60 L384.4,344.60 L384.9,344.60 L385.4,344.60 L385.9,344.60 L386.4,344.60 L386.9,344.60 L387.4,344.60 L387.9,344.60 L388.4,344.60 L388.9,344.60 L389.4,344.60 L389.9,344.60 L390.4,344.60 L390.9,344.60 L391.4,344.60 L391.9,344.60 L392.4,344.60 L392.9,344.60 L393.4,344.60 L393.9,344.60 L394.4,344.60 L394.9,344.60 L395.4,344.60 L395.9,344.60 L396.4,344.60 L396.9,344.60 L397.4,344.60 L397.9,344.60 L398.4,344.60 L398.9,344.60 L399.4,344.60 L399.9,344.60 L400.4,344.60 L400.9,344.60 L401.4,344.60 L401.9,344.60 L402.4,344.60 L402.9,344.60 L403.4,344.60 L403.9,344.60 L404.4,344.60 L404.9,344.60 L405.4,344.60 L405.9,344.60 L406.4,344.60 L406.9,344.60 L407.4,344.60 L407.9,344.60 L408.4,344.60 L408.9,344.60 L409.4,344.60 L409.9,344.60 L410.4,344.60 L410.9,344.60 L411.4,344.60 L411.9,344.60 L412.4,344.60 L412.9,344.60 L413.4,344.60 L413.9,344.60 L414.4,344.60 L414.9,344.60 L415.4,344.60 L415.9,344.60 L416.4,344.60 L416.9,344.60 L417.4,344.60 L417.9,344.60 L418.4,344.60 L418.9,344.60 L419.4,344.60 L419.9,344.60 L420.4,344.60 L420.9,344.60 L421.4,344.60 L421.9,344.60 L422.4,344.60 L422.9,344.60 L423.4,344.59 L423.9,344.58 L424.4,344.56 L424.9,344.50 L425.4,344.38 L425.9,344.17 L426.4,343.82 L426.9,343.30 L427.4,342.56 L427.9,341.62 L428.4,340.48 L428.9,339.17 L429.4,337.71 L429.9,336.15 L430.4,334.53 L430.9,332.92 L431.4,331.43 L431.9,330.13 L432.4,329.08 L432.9,328.19 L433.4,327.23 L433.9,325.79 L434.4,323.43 L434.9,319.79 L435.4,314.84 L435.9,308.85 L436.4,302.37 L436.9,295.99 L437.4,290.27 L437.9,285.50 L438.4,281.71 L438.9,278.63 L439.4,275.59 L439.9,271.78 L440.4,268.18 L440.9,268.41 L441.4,274.63 L441.9,282.31 L442.4,283.10 L442.9,275.02 L443.4,266.74 L443.9,268.58 L444.4,281.04 L444.9,295.26 L445.4,303.17 L445.9,303.44 L446.4,298.57 L446.9,290.35 L447.4,279.23 L447.9,265.89 L448.4,252.03 L448.9,239.80 L449.4,231.09 L449.9,227.23 L450.4,228.75 L450.9,235.38 L451.4,246.07 L451.9,259.23 L452.4,272.98 L452.9,285.47 L453.4,295.09 L453.9,300.68 L454.4,301.56 L454.9,297.63 L455.4,289.33 L455.9,277.64 L456.4,263.99 L456.9,250.20 L457.4,238.17 L457.9,229.65 L458.4,225.95 L458.9,227.66 L459.4,234.57 L459.9,245.73 L460.4,259.64 L460.9,274.55 L461.4,288.79 L461.9,300.95 L462.4,310.06 L462.9,315.58 L463.4,317.41 L463.9,315.78 L464.4,311.24 L464.9,304.60 L465.4,296.85 L465.9,289.15 L466.4,282.63 L466.9,278.27 L467.4,276.77 L467.9,278.39 L468.4,282.93 L468.9,289.80 L469.4,298.13 L469.9,306.99 L470.4,315.49 L470.9,322.99 L471.4,329.07 L471.9,333.55 L472.4,336.43 L472.9,337.84 L473.4,337.92 L473.9,336.86 L474.4,334.86 L474.9,332.16 L475.4,329.03 L475.9,325.82 L476.4,322.91 L476.9,320.66 L477.4,319.38 L477.9,319.25 L478.4,320.28 L478.9,322.32 L479.4,325.08 L479.9,328.21 L480.4,331.35 L480.9,334.19 L481.4,336.52 L481.9,338.23 L482.4,339.31 L482.9,339.82 L483.4,339.90 L483.9,339.68 L484.4,339.31 L484.9,338.92 L485.4,338.63 L485.9,338.51 L486.4,338.60 L486.9,338.91 L487.4,339.40 L487.9,340.02 L488.4,340.71 L488.9,341.39 L489.4,342.00 L489.9,342.51 L490.4,342.87 L490.9,343.08 L491.4,343.15 L491.9,343.10 L492.4,342.96 L492.9,342.77 L493.4,342.55 L493.9,342.36 L494.4,342.23 L494.9,342.17 L495.4,342.21 L495.9,342.33 L496.4,342.53 L496.9,342.79 L497.4,343.07 L497.9,343.37 L498.4,343.64 L498.9,343.88 L499.4,344.09 L499.9,344.25 L500.4,344.37 L500.9,344.45 L501.4,344.51 L501.9,344.55 L502.4,344.57 L502.9,344.58 L503.4,344.59 L503.9,344.60 L504.4,344.60 L504.9,344.60 L505.4,344.60 L505.9,344.60 L506.4,344.60 L506.9,344.60 L507.4,344.60 L507.9,344.60 L508.4,344.60" fill="none" stroke="#231f20" stroke-width="1.25" stroke-linejoin="round"/>
<line x1="381.4" y1="320.4" x2="387.2" y2="320.4" stroke="#231f20" stroke-width="1"/>
<line x1="381.4" y1="296.2" x2="387.2" y2="296.2" stroke="#231f20" stroke-width="1"/>
<line x1="381.4" y1="272" x2="387.2" y2="272" stroke="#231f20" stroke-width="1"/>
<line x1="381.4" y1="247.8" x2="387.2" y2="247.8" stroke="#231f20" stroke-width="1"/>
<line x1="381.4" y1="223.6" x2="387.2" y2="223.6" stroke="#231f20" stroke-width="1"/>
<text x="378.7" y="347.7" font-size="8.5" fill="#231f20" stroke="#231f20" stroke-width="0.1" text-anchor="end" >0</text>
<text x="378.7" y="323.5" font-size="8.5" fill="#231f20" stroke="#231f20" stroke-width="0.1" text-anchor="end" textLength="8.72" lengthAdjust="spacingAndGlyphs" >20</text>
<text x="378.7" y="299.3" font-size="8.5" fill="#231f20" stroke="#231f20" stroke-width="0.1" text-anchor="end" textLength="8.72" lengthAdjust="spacingAndGlyphs" >40</text>
<text x="378.7" y="275.1" font-size="8.5" fill="#231f20" stroke="#231f20" stroke-width="0.1" text-anchor="end" textLength="8.72" lengthAdjust="spacingAndGlyphs" >60</text>
<text x="378.7" y="250.9" font-size="8.5" fill="#231f20" stroke="#231f20" stroke-width="0.1" text-anchor="end" textLength="8.72" lengthAdjust="spacingAndGlyphs" >80</text>
<text x="378.7" y="226.7" font-size="8.5" fill="#231f20" stroke="#231f20" stroke-width="0.1" text-anchor="end" textLength="13.08" lengthAdjust="spacingAndGlyphs" >100</text>
<line x1="391.02" y1="344.6" x2="391.02" y2="341.1" stroke="#231f20" stroke-width="0.7"/>
<line x1="396.64" y1="344.6" x2="396.64" y2="341.1" stroke="#231f20" stroke-width="0.7"/>
<line x1="400.64" y1="344.6" x2="400.64" y2="341.1" stroke="#231f20" stroke-width="0.7"/>
<line x1="403.73" y1="344.6" x2="403.73" y2="341.1" stroke="#231f20" stroke-width="0.7"/>
<line x1="406.26" y1="344.6" x2="406.26" y2="341.1" stroke="#231f20" stroke-width="0.7"/>
<line x1="408.4" y1="344.6" x2="408.4" y2="341.1" stroke="#231f20" stroke-width="0.7"/>
<line x1="410.25" y1="344.6" x2="410.25" y2="341.1" stroke="#231f20" stroke-width="0.7"/>
<line x1="411.89" y1="344.6" x2="411.89" y2="341.1" stroke="#231f20" stroke-width="0.7"/>
<line x1="413.35" y1="344.6" x2="413.35" y2="338.6" stroke="#231f20" stroke-width="0.9"/>
<line x1="422.97" y1="344.6" x2="422.97" y2="341.1" stroke="#231f20" stroke-width="0.7"/>
<line x1="428.59" y1="344.6" x2="428.59" y2="341.1" stroke="#231f20" stroke-width="0.7"/>
<line x1="432.59" y1="344.6" x2="432.59" y2="341.1" stroke="#231f20" stroke-width="0.7"/>
<line x1="435.68" y1="344.6" x2="435.68" y2="341.1" stroke="#231f20" stroke-width="0.7"/>
<line x1="438.21" y1="344.6" x2="438.21" y2="341.1" stroke="#231f20" stroke-width="0.7"/>
<line x1="440.35" y1="344.6" x2="440.35" y2="341.1" stroke="#231f20" stroke-width="0.7"/>
<line x1="442.2" y1="344.6" x2="442.2" y2="341.1" stroke="#231f20" stroke-width="0.7"/>
<line x1="443.84" y1="344.6" x2="443.84" y2="341.1" stroke="#231f20" stroke-width="0.7"/>
<line x1="445.3" y1="344.6" x2="445.3" y2="338.6" stroke="#231f20" stroke-width="0.9"/>
<line x1="454.92" y1="344.6" x2="454.92" y2="341.1" stroke="#231f20" stroke-width="0.7"/>
<line x1="460.54" y1="344.6" x2="460.54" y2="341.1" stroke="#231f20" stroke-width="0.7"/>
<line x1="464.54" y1="344.6" x2="464.54" y2="341.1" stroke="#231f20" stroke-width="0.7"/>
<line x1="467.63" y1="344.6" x2="467.63" y2="341.1" stroke="#231f20" stroke-width="0.7"/>
<line x1="470.16" y1="344.6" x2="470.16" y2="341.1" stroke="#231f20" stroke-width="0.7"/>
<line x1="472.3" y1="344.6" x2="472.3" y2="341.1" stroke="#231f20" stroke-width="0.7"/>
<line x1="474.15" y1="344.6" x2="474.15" y2="341.1" stroke="#231f20" stroke-width="0.7"/>
<line x1="475.79" y1="344.6" x2="475.79" y2="341.1" stroke="#231f20" stroke-width="0.7"/>
<line x1="477.25" y1="344.6" x2="477.25" y2="338.6" stroke="#231f20" stroke-width="0.9"/>
<line x1="486.87" y1="344.6" x2="486.87" y2="341.1" stroke="#231f20" stroke-width="0.7"/>
<line x1="492.49" y1="344.6" x2="492.49" y2="341.1" stroke="#231f20" stroke-width="0.7"/>
<line x1="496.49" y1="344.6" x2="496.49" y2="341.1" stroke="#231f20" stroke-width="0.7"/>
<line x1="499.58" y1="344.6" x2="499.58" y2="341.1" stroke="#231f20" stroke-width="0.7"/>
<line x1="502.11" y1="344.6" x2="502.11" y2="341.1" stroke="#231f20" stroke-width="0.7"/>
<line x1="504.25" y1="344.6" x2="504.25" y2="341.1" stroke="#231f20" stroke-width="0.7"/>
<line x1="506.1" y1="344.6" x2="506.1" y2="341.1" stroke="#231f20" stroke-width="0.7"/>
<line x1="507.74" y1="344.6" x2="507.74" y2="341.1" stroke="#231f20" stroke-width="0.7"/>
<text x="383.9" y="356.8" font-size="8.5" fill="#231f20" stroke="#231f20" stroke-width="0.1" text-anchor="end" textLength="8.72" lengthAdjust="spacingAndGlyphs" >10</text>
<text x="384.1" y="353.4" font-size="6" fill="#231f20" stroke="#231f20" stroke-width="0.1" >0</text>
<text x="447.8" y="356.8" font-size="8.5" fill="#231f20" stroke="#231f20" stroke-width="0.1" text-anchor="end" textLength="8.72" lengthAdjust="spacingAndGlyphs" >10</text>
<text x="448" y="353.4" font-size="6" fill="#231f20" stroke="#231f20" stroke-width="0.1" >2</text>
<text x="511.7" y="356.8" font-size="8.5" fill="#231f20" stroke="#231f20" stroke-width="0.1" text-anchor="end" textLength="8.72" lengthAdjust="spacingAndGlyphs" >10</text>
<text x="511.9" y="353.4" font-size="6" fill="#231f20" stroke="#231f20" stroke-width="0.1" >4</text>
<text x="445.6" y="369.7" font-size="9" fill="#231f20" stroke="#231f20" stroke-width="0.1" text-anchor="middle" textLength="18.7" lengthAdjust="spacingAndGlyphs" >CFSE</text>
<line x1="392.9" y1="233.8" x2="403.9" y2="233.8" stroke="#231f20" stroke-width="1.3"/>
<text x="406.7" y="236.9" font-size="9" fill="#231f20" stroke="#231f20" stroke-width="0.1" textLength="13.6" lengthAdjust="spacingAndGlyphs" >+/+</text>
<line x1="392.9" y1="245.05" x2="403.9" y2="245.05" stroke="#bf2a4a" stroke-width="1.3"/>
<text x="406.7" y="248.15" font-size="8.5" fill="#231f20" stroke="#231f20" stroke-width="0.1" font-style="italic" textLength="21.2" lengthAdjust="spacingAndGlyphs" >Mcl-1</text>
<line x1="392.9" y1="256.3" x2="403.9" y2="256.3" stroke="#4d78b0" stroke-width="1.3"/>
<text x="406.7" y="259.4" font-size="8.5" fill="#231f20" stroke="#231f20" stroke-width="0.1" font-style="italic" textLength="21.2" lengthAdjust="spacingAndGlyphs" >BCL-2</text>
<text transform="translate(26.3,282.5) rotate(-90)" font-size="8.5" fill="#231f20" stroke="#231f20" stroke-width="0.1" text-anchor="middle" textLength="109.3" lengthAdjust="spacingAndGlyphs" >relative fluorescence intensity</text>
<text x="29.4" y="425.9" font-size="8.6" fill="#231f20" stroke="#231f20" stroke-width="0.1" textLength="54.7" lengthAdjust="spacingAndGlyphs" >medium alone</text>
<line x1="43.4" y1="437.3" x2="43.4" y2="534.1" stroke="#3c3c3c" stroke-width="1.2"/>
<line x1="42.8" y1="533.5" x2="165.3" y2="533.5" stroke="#3c3c3c" stroke-width="1.2"/>
<line x1="43.4" y1="485.4" x2="48.4" y2="485.4" stroke="#231f20" stroke-width="0.9"/>
<line x1="43.4" y1="437.3" x2="48.4" y2="437.3" stroke="#231f20" stroke-width="0.9"/>
<line x1="66.9" y1="533.5" x2="66.9" y2="528.5" stroke="#231f20" stroke-width="0.9"/>
<line x1="90.6" y1="533.5" x2="90.6" y2="528.5" stroke="#231f20" stroke-width="0.9"/>
<line x1="114.5" y1="533.5" x2="114.5" y2="528.5" stroke="#231f20" stroke-width="0.9"/>
<line x1="138.3" y1="533.5" x2="138.3" y2="528.5" stroke="#231f20" stroke-width="0.9"/>
<line x1="162.1" y1="533.5" x2="162.1" y2="528.5" stroke="#231f20" stroke-width="0.9"/>
<text x="40" y="439.6" font-size="7.1" fill="#231f20" stroke="#231f20" stroke-width="0.1" text-anchor="end" textLength="10.93" lengthAdjust="spacingAndGlyphs" >100</text>
<text x="40.6" y="487.8" font-size="7.1" fill="#231f20" stroke="#231f20" stroke-width="0.1" text-anchor="end" textLength="7.28" lengthAdjust="spacingAndGlyphs" >10</text>
<text x="39.3" y="535.9" font-size="7.1" fill="#231f20" stroke="#231f20" stroke-width="0.1" text-anchor="end" >1</text>
<text x="43.4" y="541.7" font-size="7" fill="#231f20" stroke="#231f20" stroke-width="0.1" text-anchor="middle" >0</text>
<text x="66.9" y="541.7" font-size="7" fill="#231f20" stroke="#231f20" stroke-width="0.1" text-anchor="middle" >4</text>
<text x="90.6" y="541.7" font-size="7" fill="#231f20" stroke="#231f20" stroke-width="0.1" text-anchor="middle" textLength="7.18" lengthAdjust="spacingAndGlyphs" >24</text>
<text x="114.5" y="541.7" font-size="7" fill="#231f20" stroke="#231f20" stroke-width="0.1" text-anchor="middle" textLength="7.18" lengthAdjust="spacingAndGlyphs" >48</text>
<text x="138.3" y="541.7" font-size="7" fill="#231f20" stroke="#231f20" stroke-width="0.1" text-anchor="middle" textLength="7.18" lengthAdjust="spacingAndGlyphs" >72</text>
<text x="162.1" y="541.7" font-size="7" fill="#231f20" stroke="#231f20" stroke-width="0.1" text-anchor="middle" textLength="7.18" lengthAdjust="spacingAndGlyphs" >96</text>
<text x="101.6" y="554" font-size="7.6" fill="#231f20" stroke="#231f20" stroke-width="0.1" text-anchor="middle" textLength="28.5" lengthAdjust="spacingAndGlyphs" >time (hr)</text>
<text transform="translate(27.5,485.4) rotate(-90)" font-size="7.3" fill="#231f20" stroke="#231f20" stroke-width="0.1" text-anchor="middle" textLength="44" lengthAdjust="spacingAndGlyphs" >% viable cells</text>
<line x1="138.3" y1="453.4" x2="138.3" y2="460" stroke="#231f20" stroke-width="0.9"/>
<line x1="135.8" y1="453.4" x2="140.8" y2="453.4" stroke="#231f20" stroke-width="0.9"/>
<line x1="135.8" y1="460" x2="140.8" y2="460" stroke="#231f20" stroke-width="0.9"/>
<line x1="162.1" y1="480.6" x2="162.1" y2="489.2" stroke="#231f20" stroke-width="0.9"/>
<line x1="159.6" y1="480.6" x2="164.6" y2="480.6" stroke="#231f20" stroke-width="0.9"/>
<line x1="159.6" y1="489.2" x2="164.6" y2="489.2" stroke="#231f20" stroke-width="0.9"/>
<line x1="162.1" y1="456.6" x2="162.1" y2="462" stroke="#cc2a36" stroke-width="0.9"/>
<line x1="159.6" y1="456.6" x2="164.6" y2="456.6" stroke="#cc2a36" stroke-width="0.9"/>
<line x1="159.6" y1="462" x2="164.6" y2="462" stroke="#cc2a36" stroke-width="0.9"/>
<line x1="138.3" y1="442" x2="138.3" y2="446.5" stroke="#cc2a36" stroke-width="0.9"/>
<line x1="135.8" y1="442" x2="140.8" y2="442" stroke="#cc2a36" stroke-width="0.9"/>
<line x1="135.8" y1="446.5" x2="140.8" y2="446.5" stroke="#cc2a36" stroke-width="0.9"/>
<line x1="162.1" y1="445.2" x2="162.1" y2="451.7" stroke="#4272b8" stroke-width="0.9"/>
<line x1="159.6" y1="445.2" x2="164.6" y2="445.2" stroke="#4272b8" stroke-width="0.9"/>
<line x1="159.6" y1="451.7" x2="164.6" y2="451.7" stroke="#4272b8" stroke-width="0.9"/>
<polyline points="43.4,437.8 66.9,439.4 90.6,442.6 114.5,449.7 138.3,457.1 162.1,484.8" fill="none" stroke="#231f20" stroke-width="1.1" stroke-linejoin="round"/>
<circle cx="43.4" cy="437.8" r="2.4" fill="#231f20"/>
<circle cx="66.9" cy="439.4" r="2.4" fill="#231f20"/>
<circle cx="90.6" cy="442.6" r="2.4" fill="#231f20"/>
<circle cx="114.5" cy="449.7" r="2.4" fill="#231f20"/>
<circle cx="138.3" cy="457.1" r="2.4" fill="#231f20"/>
<circle cx="162.1" cy="484.8" r="2.4" fill="#231f20"/>
<polyline points="43.4,437.8 66.9,438.8 90.6,439.8 114.5,440.3 138.3,444.2 162.1,459" fill="none" stroke="#cc2a36" stroke-width="1.1" stroke-linejoin="round"/>
<rect x="41.4" y="435.8" width="4" height="4" fill="#cc2a36"/>
<rect x="64.9" y="436.8" width="4" height="4" fill="#cc2a36"/>
<rect x="88.6" y="437.8" width="4" height="4" fill="#cc2a36"/>
<rect x="112.5" y="438.3" width="4" height="4" fill="#cc2a36"/>
<rect x="136.3" y="442.2" width="4" height="4" fill="#cc2a36"/>
<rect x="160.1" y="457" width="4" height="4" fill="#cc2a36"/>
<polyline points="43.4,437.8 66.9,439.2 90.6,439.8 114.5,440.3 138.3,442.3 162.1,448.4" fill="none" stroke="#4272b8" stroke-width="1.1" stroke-linejoin="round"/>
<polygon points="41.3,439.69 45.5,439.69 43.4,435.91" fill="#4272b8"/>
<polygon points="64.8,441.09 69,441.09 66.9,437.31" fill="#4272b8"/>
<polygon points="88.5,441.69 92.7,441.69 90.6,437.91" fill="#4272b8"/>
<polygon points="112.4,442.19 116.6,442.19 114.5,438.41" fill="#4272b8"/>
<polygon points="136.2,444.19 140.4,444.19 138.3,440.41" fill="#4272b8"/>
<polygon points="160,450.29 164.2,450.29 162.1,446.51" fill="#4272b8"/>
<circle cx="64.4" cy="475.6" r="2.5" fill="#231f20"/>
<text x="70.6" y="479.3" font-size="8.6" fill="#3a3a3a" stroke="#3a3a3a" stroke-width="0.1" textLength="13.6" lengthAdjust="spacingAndGlyphs" >+/+</text>
<rect x="62.9" y="486.5" width="4" height="4" fill="#cc2a36"/>
<text x="71" y="491.1" font-size="8.4" fill="#231f20" stroke="#231f20" stroke-width="0.1" font-style="italic" textLength="20.4" lengthAdjust="spacingAndGlyphs" >Mcl-1</text>
<polygon points="62.7,503.48 67.1,503.48 64.9,499.52" fill="#4272b8"/>
<text x="71" y="504" font-size="8.4" fill="#231f20" stroke="#231f20" stroke-width="0.1" font-style="italic" textLength="20.8" lengthAdjust="spacingAndGlyphs" >BCL-2</text>
<text x="194.9" y="426.1" font-size="8.6" fill="#231f20" stroke="#231f20" stroke-width="0.1" textLength="76.5" lengthAdjust="spacingAndGlyphs" >10 &#956;g/mL etoposide</text>
<line x1="209.9" y1="437.6" x2="209.9" y2="533.4" stroke="#3c3c3c" stroke-width="1.2"/>
<line x1="209.3" y1="532.8" x2="336.7" y2="532.8" stroke="#3c3c3c" stroke-width="1.2"/>
<line x1="209.9" y1="485.2" x2="214.9" y2="485.2" stroke="#231f20" stroke-width="0.9"/>
<line x1="209.9" y1="437.6" x2="214.9" y2="437.6" stroke="#231f20" stroke-width="0.9"/>
<line x1="238.6" y1="532.8" x2="238.6" y2="527.8" stroke="#231f20" stroke-width="0.9"/>
<line x1="267.5" y1="532.8" x2="267.5" y2="527.8" stroke="#231f20" stroke-width="0.9"/>
<line x1="296.7" y1="532.8" x2="296.7" y2="527.8" stroke="#231f20" stroke-width="0.9"/>
<line x1="325.7" y1="532.8" x2="325.7" y2="527.8" stroke="#231f20" stroke-width="0.9"/>
<text x="207.9" y="440" font-size="7.1" fill="#231f20" stroke="#231f20" stroke-width="0.1" text-anchor="end" textLength="10.93" lengthAdjust="spacingAndGlyphs" >100</text>
<text x="207.4" y="487.2" font-size="7.1" fill="#231f20" stroke="#231f20" stroke-width="0.1" text-anchor="end" textLength="7.28" lengthAdjust="spacingAndGlyphs" >10</text>
<text x="207.4" y="535.2" font-size="7.1" fill="#231f20" stroke="#231f20" stroke-width="0.1" text-anchor="end" >1</text>
<text x="209.9" y="541.5" font-size="7" fill="#231f20" stroke="#231f20" stroke-width="0.1" text-anchor="middle" >0</text>
<text x="238.6" y="541.5" font-size="7" fill="#231f20" stroke="#231f20" stroke-width="0.1" text-anchor="middle" >4</text>
<text x="267.5" y="541.5" font-size="7" fill="#231f20" stroke="#231f20" stroke-width="0.1" text-anchor="middle" textLength="7.18" lengthAdjust="spacingAndGlyphs" >24</text>
<text x="296.7" y="541.5" font-size="7" fill="#231f20" stroke="#231f20" stroke-width="0.1" text-anchor="middle" textLength="7.18" lengthAdjust="spacingAndGlyphs" >48</text>
<text x="325.7" y="541.5" font-size="7" fill="#231f20" stroke="#231f20" stroke-width="0.1" text-anchor="middle" textLength="7.18" lengthAdjust="spacingAndGlyphs" >72</text>
<text x="263.2" y="554" font-size="7.6" fill="#231f20" stroke="#231f20" stroke-width="0.1" text-anchor="middle" textLength="28.5" lengthAdjust="spacingAndGlyphs" >time (hr)</text>
<text transform="translate(194.2,485.6) rotate(-90)" font-size="7.4" fill="#231f20" stroke="#231f20" stroke-width="0.1" text-anchor="middle" textLength="81.4" lengthAdjust="spacingAndGlyphs" >% viable cells / untreated</text>
<line x1="267.5" y1="445.7" x2="267.5" y2="452.5" stroke="#231f20" stroke-width="0.9"/>
<line x1="265" y1="445.7" x2="270" y2="445.7" stroke="#231f20" stroke-width="0.9"/>
<line x1="265" y1="452.5" x2="270" y2="452.5" stroke="#231f20" stroke-width="0.9"/>
<line x1="296.7" y1="455.7" x2="296.7" y2="468.4" stroke="#231f20" stroke-width="0.9"/>
<line x1="294.2" y1="455.7" x2="299.2" y2="455.7" stroke="#231f20" stroke-width="0.9"/>
<line x1="294.2" y1="468.4" x2="299.2" y2="468.4" stroke="#231f20" stroke-width="0.9"/>
<line x1="325.7" y1="474.3" x2="325.7" y2="480.4" stroke="#231f20" stroke-width="0.9"/>
<line x1="323.2" y1="474.3" x2="328.2" y2="474.3" stroke="#231f20" stroke-width="0.9"/>
<line x1="323.2" y1="480.4" x2="328.2" y2="480.4" stroke="#231f20" stroke-width="0.9"/>
<line x1="325.7" y1="442.3" x2="325.7" y2="446.7" stroke="#cc2a36" stroke-width="0.9"/>
<line x1="323.2" y1="442.3" x2="328.2" y2="442.3" stroke="#cc2a36" stroke-width="0.9"/>
<line x1="323.2" y1="446.7" x2="328.2" y2="446.7" stroke="#cc2a36" stroke-width="0.9"/>
<polyline points="209.9,437.6 238.6,437.7 267.5,439.8 296.7,441.3 325.7,444.5" fill="none" stroke="#4272b8" stroke-width="1.1" stroke-linejoin="round"/>
<polyline points="209.9,437.6 238.6,437.7 267.5,448.9 296.7,461 325.7,477.9" fill="none" stroke="#231f20" stroke-width="1.1" stroke-linejoin="round"/>
<circle cx="209.9" cy="437.6" r="2.4" fill="#231f20"/>
<circle cx="238.6" cy="437.7" r="2.4" fill="#231f20"/>
<circle cx="267.5" cy="448.9" r="2.4" fill="#231f20"/>
<circle cx="296.7" cy="461" r="2.4" fill="#231f20"/>
<circle cx="325.7" cy="477.9" r="2.4" fill="#231f20"/>
<polygon points="207.8,439.49 212,439.49 209.9,435.71" fill="#4272b8"/>
<polygon points="236.5,439.59 240.7,439.59 238.6,435.81" fill="#4272b8"/>
<polygon points="265.4,441.69 269.6,441.69 267.5,437.91" fill="#4272b8"/>
<polygon points="294.6,443.19 298.8,443.19 296.7,439.41" fill="#4272b8"/>
<polygon points="323.6,446.39 327.8,446.39 325.7,442.61" fill="#4272b8"/>
<polyline points="209.9,437.6 238.6,437.7 267.5,439.8 296.7,441.3 325.7,444.5" fill="none" stroke="#cc2a36" stroke-width="1.1" stroke-linejoin="round"/>
<rect x="207.9" y="435.6" width="4" height="4" fill="#cc2a36"/>
<rect x="236.6" y="435.7" width="4" height="4" fill="#cc2a36"/>
<rect x="265.5" y="437.8" width="4" height="4" fill="#cc2a36"/>
<rect x="294.7" y="439.3" width="4" height="4" fill="#cc2a36"/>
<rect x="323.7" y="442.5" width="4" height="4" fill="#cc2a36"/>
<circle cx="228.2" cy="475.6" r="2.5" fill="#231f20"/>
<text x="233.9" y="479.1" font-size="8.6" fill="#3a3a3a" stroke="#3a3a3a" stroke-width="0.1" textLength="13.6" lengthAdjust="spacingAndGlyphs" >+/+</text>
<rect x="226.2" y="486.6" width="4" height="4" fill="#cc2a36"/>
<text x="233.7" y="491.2" font-size="8.4" fill="#231f20" stroke="#231f20" stroke-width="0.1" font-style="italic" textLength="20.4" lengthAdjust="spacingAndGlyphs" >Mcl-1</text>
<polygon points="226,503.68 230.4,503.68 228.2,499.72" fill="#4272b8"/>
<text x="233.7" y="503.7" font-size="8.4" fill="#231f20" stroke="#231f20" stroke-width="0.1" font-style="italic" textLength="20.8" lengthAdjust="spacingAndGlyphs" >BCL-2</text>
<line x1="376.8" y1="445" x2="376.8" y2="533.6" stroke="#3c3c3c" stroke-width="1.2"/>
<line x1="376.2" y1="533" x2="516.2" y2="533" stroke="#3c3c3c" stroke-width="1.2"/>
<line x1="376.8" y1="511" x2="381.2" y2="511" stroke="#231f20" stroke-width="0.9"/>
<line x1="376.8" y1="489" x2="381.2" y2="489" stroke="#231f20" stroke-width="0.9"/>
<line x1="376.8" y1="467" x2="381.2" y2="467" stroke="#231f20" stroke-width="0.9"/>
<line x1="376.8" y1="445" x2="381.2" y2="445" stroke="#231f20" stroke-width="0.9"/>
<text x="374.5" y="535.6" font-size="7.6" fill="#231f20" stroke="#231f20" stroke-width="0.1" text-anchor="end" >0</text>
<text x="374.5" y="513.6" font-size="7.6" fill="#231f20" stroke="#231f20" stroke-width="0.1" text-anchor="end" >5</text>
<text x="374.5" y="491.6" font-size="7.6" fill="#231f20" stroke="#231f20" stroke-width="0.1" text-anchor="end" textLength="7.8" lengthAdjust="spacingAndGlyphs" >10</text>
<text x="374.5" y="469.6" font-size="7.6" fill="#231f20" stroke="#231f20" stroke-width="0.1" text-anchor="end" textLength="7.8" lengthAdjust="spacingAndGlyphs" >15</text>
<text x="374.5" y="447.6" font-size="7.6" fill="#231f20" stroke="#231f20" stroke-width="0.1" text-anchor="end" textLength="7.8" lengthAdjust="spacingAndGlyphs" >20</text>
<line x1="393.7" y1="533" x2="393.7" y2="528" stroke="#231f20" stroke-width="0.9"/>
<line x1="429.7" y1="533" x2="429.7" y2="528" stroke="#231f20" stroke-width="0.9"/>
<line x1="465.2" y1="533" x2="465.2" y2="528" stroke="#231f20" stroke-width="0.9"/>
<line x1="500.4" y1="533" x2="500.4" y2="528" stroke="#231f20" stroke-width="0.9"/>
<text x="393.7" y="541.7" font-size="7.5" fill="#231f20" stroke="#231f20" stroke-width="0.1" text-anchor="middle" textLength="11.2" lengthAdjust="spacingAndGlyphs" >+/+</text>
<text x="429.7" y="541.7" font-size="7.5" fill="#231f20" stroke="#231f20" stroke-width="0.1" text-anchor="middle" textLength="11.2" lengthAdjust="spacingAndGlyphs" >+/+</text>
<text x="465.2" y="541.7" font-size="7.5" fill="#231f20" stroke="#231f20" stroke-width="0.1" text-anchor="middle" textLength="11.2" lengthAdjust="spacingAndGlyphs" >T/+</text>
<text x="500.4" y="541.7" font-size="7.5" fill="#231f20" stroke="#231f20" stroke-width="0.1" text-anchor="middle" textLength="11.2" lengthAdjust="spacingAndGlyphs" >T/+</text>
<text x="370.6" y="551.8" font-size="7.5" fill="#231f20" stroke="#231f20" stroke-width="0.1" textLength="12.5" lengthAdjust="spacingAndGlyphs" >&#947;-IR</text>
<text x="393.7" y="552.2" font-size="7.5" fill="#231f20" stroke="#231f20" stroke-width="0.1" text-anchor="middle" >-</text>
<text x="429.7" y="552.2" font-size="7.5" fill="#231f20" stroke="#231f20" stroke-width="0.1" text-anchor="middle" >+</text>
<text x="465.2" y="552.2" font-size="7.5" fill="#231f20" stroke="#231f20" stroke-width="0.1" text-anchor="middle" >-</text>
<text x="500.4" y="552.2" font-size="7.5" fill="#231f20" stroke="#231f20" stroke-width="0.1" text-anchor="middle" >+</text>
<text transform="translate(360.4,488) rotate(-90)" font-size="7" fill="#231f20" stroke="#231f20" stroke-width="0.1" text-anchor="middle" >colonies per 7.5 x 10<tspan dy="-2.5" font-size="4.5">4</tspan><tspan dy="2.5"> BM cells</tspan></text>
<polyline points="394.4,427.9 394.4,425.1 465.5,425.1 465.5,427.9" fill="none" stroke="#444" stroke-width="1"/>
<text x="428.5" y="422.6" font-size="7" fill="#231f20" stroke="#231f20" stroke-width="0.1" text-anchor="middle" >ns</text>
<polyline points="430.6,439.5 430.6,436.7 501,436.7 501,439.5" fill="none" stroke="#444" stroke-width="1"/>
<text x="466.3" y="435.2" font-size="7" fill="#231f20" stroke="#231f20" stroke-width="0.1" text-anchor="middle" >***</text>
<polyline points="394.5,451 394.5,448.2 431.5,448.2 431.5,451" fill="none" stroke="#444" stroke-width="1"/>
<text x="414" y="446.4" font-size="7" fill="#231f20" stroke="#231f20" stroke-width="0.1" text-anchor="middle" >***</text>
<polyline points="463.4,451.3 463.4,448.5 501,448.5 501,451.3" fill="none" stroke="#444" stroke-width="1"/>
<text x="481.6" y="445.6" font-size="7" fill="#231f20" stroke="#231f20" stroke-width="0.1" text-anchor="middle" >ns</text>
<line x1="383.9" y1="478.4" x2="407.1" y2="478.4" stroke="#231f20" stroke-width="1.3"/>
<line x1="389" y1="477" x2="401" y2="477" stroke="#231f20" stroke-width="0.8"/>
<line x1="389" y1="479.8" x2="401" y2="479.8" stroke="#231f20" stroke-width="0.8"/>
<circle cx="395.6" cy="475.5" r="2.4" fill="#231f20"/>
<circle cx="395.6" cy="481.6" r="2.4" fill="#231f20"/>
<circle cx="390.1" cy="478.5" r="2.4" fill="#231f20"/>
<circle cx="400.9" cy="478.5" r="2.4" fill="#231f20"/>
<line x1="419.2" y1="510.1" x2="442.4" y2="510.1" stroke="#231f20" stroke-width="1.3"/>
<line x1="424" y1="508.6" x2="437" y2="508.6" stroke="#231f20" stroke-width="0.9"/>
<line x1="424" y1="511.6" x2="437" y2="511.6" stroke="#231f20" stroke-width="0.9"/>
<rect x="428.8" y="502.5" width="3.8" height="3.8" fill="#231f20"/>
<rect x="428.8" y="512.4" width="3.8" height="3.8" fill="#231f20"/>
<rect x="423.2" y="508.2" width="3.8" height="3.8" fill="#231f20"/>
<rect x="434.6" y="508.2" width="3.8" height="3.8" fill="#231f20"/>
<line x1="453.1" y1="479.4" x2="476.9" y2="479.4" stroke="#c42a3c" stroke-width="1.3"/>
<line x1="459.2" y1="474.1" x2="471.8" y2="474.1" stroke="#c42a3c" stroke-width="1.1"/>
<line x1="459.2" y1="484.6" x2="471.8" y2="484.6" stroke="#c42a3c" stroke-width="1.1"/>
<line x1="465" y1="474.1" x2="465" y2="484.6" stroke="#c42a3c" stroke-width="1"/>
<polygon points="468.5,470.51 472.3,470.51 470.4,467.09" fill="#c42a3c"/>
<polygon points="463.1,474.91 466.9,474.91 465,471.49" fill="#c42a3c"/>
<polygon points="463.1,483.11 466.9,483.11 465,479.69" fill="#c42a3c"/>
<polygon points="463.6,495.71 467.4,495.71 465.5,492.29" fill="#c42a3c"/>
<line x1="488" y1="486.5" x2="511.7" y2="486.5" stroke="#c42a3c" stroke-width="1.3"/>
<line x1="493.8" y1="484" x2="505.8" y2="484" stroke="#c42a3c" stroke-width="1"/>
<line x1="493.8" y1="488.2" x2="505.8" y2="488.2" stroke="#c42a3c" stroke-width="1"/>
<polygon points="497.8,477.99 501.6,477.99 499.7,481.41" fill="#c42a3c"/>
<polygon points="492.5,486.77 495.9,486.77 494.2,489.83" fill="#c42a3c"/>
<polygon points="503.5,486.77 506.9,486.77 505.2,489.83" fill="#c42a3c"/>
<polygon points="498,486.07 501.4,486.07 499.7,489.13" fill="#c42a3c"/>
</svg></body></html>
